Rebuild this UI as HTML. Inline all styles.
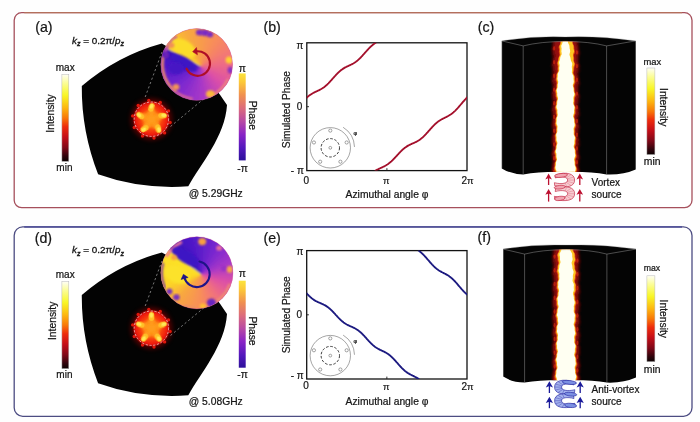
<!DOCTYPE html>
<html><head><meta charset="utf-8">
<style>
html,body{margin:0;padding:0;background:#fefefe;}
body{width:700px;height:422px;overflow:hidden;font-family:"Liberation Sans", sans-serif;}
svg{display:block;position:absolute;left:0;top:0;will-change:transform;}
text{font-family:"Liberation Sans", sans-serif;fill:#161616;stroke:#161616;stroke-width:0.22px;}
</style></head><body>
<svg width="700" height="422" viewBox="0 0 700 422">
<defs>
<linearGradient id="hot" x1="0" y1="0" x2="0" y2="1">
<stop offset="0" stop-color="#fffff4"/>
<stop offset="0.10" stop-color="#fbfd96"/>
<stop offset="0.24" stop-color="#f8f626"/>
<stop offset="0.38" stop-color="#fdb810"/>
<stop offset="0.50" stop-color="#f87808"/>
<stop offset="0.60" stop-color="#ee2c0c"/>
<stop offset="0.72" stop-color="#c40e18"/>
<stop offset="0.84" stop-color="#800818"/>
<stop offset="0.94" stop-color="#30040c"/>
<stop offset="1" stop-color="#0c0202"/>
</linearGradient>
<linearGradient id="phase" x1="0" y1="1" x2="0" y2="0">

<stop offset="0" stop-color="#2c109a"/>
<stop offset="0.14" stop-color="#5218bc"/>
<stop offset="0.3" stop-color="#8a24c6"/>
<stop offset="0.45" stop-color="#b84aa4"/>
<stop offset="0.6" stop-color="#dc6c7c"/>
<stop offset="0.75" stop-color="#f09050"/>
<stop offset="0.9" stop-color="#fcc838"/>
<stop offset="1.0" stop-color="#fce43c"/>
</linearGradient>
<radialGradient id="blob" cx="0.5" cy="0.5" r="0.5">
<stop offset="0" stop-color="#ffa41c"/>
<stop offset="0.36" stop-color="#ff8414"/>
<stop offset="0.56" stop-color="#f8400c"/>
<stop offset="0.80" stop-color="#f01c08"/>
<stop offset="0.90" stop-color="#c40c08"/>
<stop offset="1" stop-color="#500404" stop-opacity="0"/>
</radialGradient>
<filter id="b05" x="-20%" y="-20%" width="140%" height="140%"><feGaussianBlur stdDeviation="0.5"/></filter>
<filter id="b08" x="-20%" y="-20%" width="140%" height="140%"><feGaussianBlur stdDeviation="0.8"/></filter>
<filter id="b12" x="-30%" y="-30%" width="160%" height="160%"><feGaussianBlur stdDeviation="1.2"/></filter>
<filter id="b20" x="-50%" y="-50%" width="200%" height="200%"><feGaussianBlur stdDeviation="2"/></filter>
<filter id="b03" x="-10%" y="-10%" width="120%" height="120%"><feGaussianBlur stdDeviation="0.35"/></filter>
</defs>

<rect x="14.2" y="12.7" width="677.8" height="195.0" rx="7.5" ry="7.5" fill="#ffffff" stroke="#a6505c" stroke-width="1.3"/>
<line x1="24.2" y1="12.7" x2="682.0" y2="12.7" stroke="#b4705c" stroke-width="1.3"/>
<rect x="14.2" y="226.9" width="677.8" height="189.4" rx="8.5" ry="8.5" fill="#ffffff" stroke="#4c4c82" stroke-width="1.3"/>
<line x1="24.2" y1="226.9" x2="682.0" y2="226.9" stroke="#55559a" stroke-width="1.7"/>
<text x="35.2" y="32.1" font-size="14.2" text-anchor="start" >(a)</text>
<text x="263.5" y="32.1" font-size="14.2" text-anchor="start" >(b)</text>
<text x="477.8" y="32.1" font-size="14.2" text-anchor="start" >(c)</text>
<text x="34.7" y="242.7" font-size="14.2" text-anchor="start" >(d)</text>
<text x="263.5" y="242.7" font-size="14.2" text-anchor="start" >(e)</text>
<text x="477.6" y="242.2" font-size="14.2" text-anchor="start" >(f)</text>
<text x="72.0" y="43.8" font-size="9.9" style="stroke-width:0.32px"><tspan font-style="italic">k</tspan><tspan font-size="7" font-style="italic" font-weight="bold" dy="2.3">z</tspan><tspan dy="-2.3"> = 0.2π/</tspan><tspan font-style="italic">p</tspan><tspan font-size="7" font-style="italic" font-weight="bold" dy="2.3">z</tspan></text>
<text x="72.0" y="253.2" font-size="9.9" style="stroke-width:0.32px"><tspan font-style="italic">k</tspan><tspan font-size="7" font-style="italic" font-weight="bold" dy="2.3">z</tspan><tspan dy="-2.3"> = 0.2π/</tspan><tspan font-style="italic">p</tspan><tspan font-size="7" font-style="italic" font-weight="bold" dy="2.3">z</tspan></text>
<path d="M81.8,86 Q117.2,55.6 161.8,43.4 Q201,64 227.0,105.0 C225.2,136 200.5,164.5 188.3,186.3 Q140.5,189.6 98.1,174.3 Q81.4,131.3 81.8,86 Z" fill="#030303"/>
<circle cx="151.4" cy="119.2" r="21" fill="#8a0606" opacity="0.55" filter="url(#b20)"/>
<circle cx="151.4" cy="119.2" r="19.3" fill="url(#blob)" filter="url(#b05)"/>
<circle cx="170.1" cy="122.5" r="1.7" fill="#e01808" filter="url(#b05)"/>
<circle cx="164.6" cy="132.9" r="1.7" fill="#e01808" filter="url(#b05)"/>
<circle cx="154.0" cy="138.0" r="1.7" fill="#e01808" filter="url(#b05)"/>
<circle cx="142.5" cy="136.0" r="1.7" fill="#e01808" filter="url(#b05)"/>
<circle cx="134.3" cy="127.5" r="1.7" fill="#e01808" filter="url(#b05)"/>
<circle cx="132.7" cy="115.9" r="1.7" fill="#e01808" filter="url(#b05)"/>
<circle cx="138.2" cy="105.5" r="1.7" fill="#e01808" filter="url(#b05)"/>
<circle cx="148.8" cy="100.4" r="1.7" fill="#e01808" filter="url(#b05)"/>
<circle cx="160.3" cy="102.4" r="1.7" fill="#e01808" filter="url(#b05)"/>
<circle cx="168.5" cy="110.9" r="1.7" fill="#e01808" filter="url(#b05)"/>
<ellipse cx="151.4" cy="111.7" rx="4.6" ry="3.0" fill="#ff9a1c" transform="rotate(-79.0 151.4 111.7)" filter="url(#b08)"/>
<ellipse cx="151.4" cy="107.4" rx="4.4" ry="2.9" fill="#ffc028" transform="rotate(-68 151.4 107.4)" filter="url(#b05)"/>
<ellipse cx="151.4" cy="106.2" rx="2.6" ry="1.7" fill="#ffe858" transform="rotate(-68 151.4 106.2)" filter="url(#b05)"/>
<ellipse cx="158.5" cy="116.9" rx="4.6" ry="3.0" fill="#ff9a1c" transform="rotate(-7.0 158.5 116.9)" filter="url(#b08)"/>
<ellipse cx="162.6" cy="115.6" rx="4.4" ry="2.9" fill="#ffc028" transform="rotate(4 162.6 115.6)" filter="url(#b05)"/>
<ellipse cx="163.8" cy="115.2" rx="2.6" ry="1.7" fill="#ffe858" transform="rotate(4 163.8 115.2)" filter="url(#b05)"/>
<ellipse cx="155.8" cy="125.3" rx="4.6" ry="3.0" fill="#ff9a1c" transform="rotate(65.0 155.8 125.3)" filter="url(#b08)"/>
<ellipse cx="158.3" cy="128.7" rx="4.4" ry="2.9" fill="#ffc028" transform="rotate(76 158.3 128.7)" filter="url(#b05)"/>
<ellipse cx="159.0" cy="129.7" rx="2.6" ry="1.7" fill="#ffe858" transform="rotate(76 159.0 129.7)" filter="url(#b05)"/>
<ellipse cx="147.0" cy="125.3" rx="4.6" ry="3.0" fill="#ff9a1c" transform="rotate(137.0 147.0 125.3)" filter="url(#b08)"/>
<ellipse cx="144.5" cy="128.7" rx="4.4" ry="2.9" fill="#ffc028" transform="rotate(148 144.5 128.7)" filter="url(#b05)"/>
<ellipse cx="143.8" cy="129.7" rx="2.6" ry="1.7" fill="#ffe858" transform="rotate(148 143.8 129.7)" filter="url(#b05)"/>
<ellipse cx="144.3" cy="116.9" rx="4.6" ry="3.0" fill="#ff9a1c" transform="rotate(209.0 144.3 116.9)" filter="url(#b08)"/>
<ellipse cx="140.2" cy="115.6" rx="4.4" ry="2.9" fill="#ffc028" transform="rotate(220 140.2 115.6)" filter="url(#b05)"/>
<ellipse cx="139.0" cy="115.2" rx="2.6" ry="1.7" fill="#ffe858" transform="rotate(220 139.0 115.2)" filter="url(#b05)"/>
<circle cx="151.4" cy="119.2" r="4.2" fill="#ff9c1c" filter="url(#b08)"/>
<circle cx="151.4" cy="119.2" r="17.2" fill="none" stroke="#fff" stroke-opacity="0.85" stroke-width="0.7" stroke-dasharray="2.2 1.6"/>
<line x1="145.2" y1="97" x2="162" y2="52" stroke="#fff" stroke-opacity="0.7" stroke-width="0.65" stroke-dasharray="2.2 2.4"/>
<line x1="170.5" y1="126.5" x2="206" y2="97" stroke="#fff" stroke-opacity="0.7" stroke-width="0.65" stroke-dasharray="2.2 2.4"/>
<clipPath id="clipa"><circle cx="196.7" cy="64.45" r="35.9"/></clipPath>
<g clip-path="url(#clipa)"><circle cx="196.7" cy="64.45" r="36.9" fill="#e8608c"/><g filter="url(#b12)">
<circle cx="196.7" cy="64.45" r="49.9" fill="#e8608c"/>
<path d="M200.89999999999998,66.25 L158.61,43.76 L155.34,51.45 Z" fill="#3a13b7"/>
<path d="M200.89999999999998,66.25 L157.49,46.01 L154.63,53.85 Z" fill="#3c13b9"/>
<path d="M200.89999999999998,66.25 L156.49,48.31 L154.05,56.29 Z" fill="#3f14bc"/>
<path d="M200.89999999999998,66.25 L155.61,50.66 L153.59,58.76 Z" fill="#4114be"/>
<path d="M200.89999999999998,66.25 L154.86,53.05 L153.26,61.24 Z" fill="#4315c1"/>
<path d="M200.89999999999998,66.25 L154.23,55.47 L153.07,63.74 Z" fill="#4515c3"/>
<path d="M200.89999999999998,66.25 L153.73,57.93 L153.00,66.25 Z" fill="#4816c6"/>
<path d="M200.89999999999998,66.25 L153.36,60.41 L153.07,68.76 Z" fill="#4b17c7"/>
<path d="M200.89999999999998,66.25 L153.12,62.91 L153.26,71.26 Z" fill="#4e18c7"/>
<path d="M200.89999999999998,66.25 L153.01,65.41 L153.59,73.74 Z" fill="#5119c8"/>
<path d="M200.89999999999998,66.25 L153.03,67.92 L154.05,76.21 Z" fill="#541ac8"/>
<path d="M200.89999999999998,66.25 L153.18,70.42 L154.63,78.65 Z" fill="#571bc9"/>
<path d="M200.89999999999998,66.25 L153.47,72.92 L155.34,81.05 Z" fill="#5a1dca"/>
<path d="M200.89999999999998,66.25 L153.88,75.39 L156.18,83.42 Z" fill="#5d1eca"/>
<path d="M200.89999999999998,66.25 L154.42,77.84 L157.14,85.73 Z" fill="#601fcb"/>
<path d="M200.89999999999998,66.25 L155.09,80.25 L158.22,88.00 Z" fill="#6420cc"/>
<path d="M200.89999999999998,66.25 L155.89,82.63 L159.42,90.20 Z" fill="#6721cc"/>
<path d="M200.89999999999998,66.25 L156.81,84.97 L160.73,92.34 Z" fill="#6a22cd"/>
<path d="M200.89999999999998,66.25 L157.85,87.25 L162.15,94.40 Z" fill="#6d23cd"/>
<path d="M200.89999999999998,66.25 L159.01,89.47 L163.67,96.39 Z" fill="#7024ce"/>
<path d="M200.89999999999998,66.25 L160.28,91.63 L165.30,98.30 Z" fill="#7326cf"/>
<path d="M200.89999999999998,66.25 L161.66,93.72 L167.03,100.12 Z" fill="#7627cf"/>
<path d="M200.89999999999998,66.25 L163.15,95.74 L168.85,101.85 Z" fill="#7928d0"/>
<path d="M200.89999999999998,66.25 L164.75,97.68 L170.76,103.48 Z" fill="#7c29d0"/>
<path d="M200.89999999999998,66.25 L166.44,99.52 L172.75,105.00 Z" fill="#7f2acf"/>
<path d="M200.89999999999998,66.25 L168.23,101.28 L174.81,106.42 Z" fill="#822bcf"/>
<path d="M200.89999999999998,66.25 L170.11,102.94 L176.95,107.73 Z" fill="#842cce"/>
<path d="M200.89999999999998,66.25 L172.07,104.50 L179.15,108.93 Z" fill="#872cce"/>
<path d="M200.89999999999998,66.25 L174.11,105.96 L181.42,110.01 Z" fill="#892dcd"/>
<path d="M200.89999999999998,66.25 L176.23,107.31 L183.73,110.97 Z" fill="#8c2ecd"/>
<path d="M200.89999999999998,66.25 L178.41,108.54 L186.10,111.81 Z" fill="#8f2fcc"/>
<path d="M200.89999999999998,66.25 L180.66,109.66 L188.50,112.52 Z" fill="#9130cc"/>
<path d="M200.89999999999998,66.25 L182.96,110.66 L190.94,113.10 Z" fill="#9431cb"/>
<path d="M200.89999999999998,66.25 L185.31,111.54 L193.41,113.56 Z" fill="#9732cb"/>
<path d="M200.89999999999998,66.25 L187.70,112.29 L195.89,113.89 Z" fill="#9933cb"/>
<path d="M200.89999999999998,66.25 L190.12,112.92 L198.39,114.08 Z" fill="#9c34ca"/>
<path d="M200.89999999999998,66.25 L192.58,113.42 L200.90,114.15 Z" fill="#9f35ca"/>
<path d="M200.89999999999998,66.25 L195.06,113.79 L203.41,114.08 Z" fill="#a136c9"/>
<path d="M200.89999999999998,66.25 L197.56,114.03 L205.91,113.89 Z" fill="#a437c9"/>
<path d="M200.89999999999998,66.25 L200.06,114.14 L208.39,113.56 Z" fill="#a738c8"/>
<path d="M200.89999999999998,66.25 L202.57,114.12 L210.86,113.10 Z" fill="#aa39c7"/>
<path d="M200.89999999999998,66.25 L205.07,113.97 L213.30,112.52 Z" fill="#ad3ac5"/>
<path d="M200.89999999999998,66.25 L207.57,113.68 L215.70,111.81 Z" fill="#b03cc3"/>
<path d="M200.89999999999998,66.25 L210.04,113.27 L218.07,110.97 Z" fill="#b33dc1"/>
<path d="M200.89999999999998,66.25 L212.49,112.73 L220.38,110.01 Z" fill="#b73fbf"/>
<path d="M200.89999999999998,66.25 L214.90,112.06 L222.65,108.93 Z" fill="#ba40bd"/>
<path d="M200.89999999999998,66.25 L217.28,111.26 L224.85,107.73 Z" fill="#bd42bb"/>
<path d="M200.89999999999998,66.25 L219.62,110.34 L226.99,106.42 Z" fill="#c043b9"/>
<path d="M200.89999999999998,66.25 L221.90,109.30 L229.05,105.00 Z" fill="#c445b7"/>
<path d="M200.89999999999998,66.25 L224.12,108.14 L231.04,103.48 Z" fill="#c746b5"/>
<path d="M200.89999999999998,66.25 L226.28,106.87 L232.95,101.85 Z" fill="#ca48b3"/>
<path d="M200.89999999999998,66.25 L228.37,105.49 L234.77,100.12 Z" fill="#cd49b1"/>
<path d="M200.89999999999998,66.25 L230.39,104.00 L236.50,98.30 Z" fill="#d14baf"/>
<path d="M200.89999999999998,66.25 L232.33,102.40 L238.13,96.39 Z" fill="#d44cad"/>
<path d="M200.89999999999998,66.25 L234.17,100.71 L239.65,94.40 Z" fill="#d74eab"/>
<path d="M200.89999999999998,66.25 L235.93,98.92 L241.07,92.34 Z" fill="#da4fa9"/>
<path d="M200.89999999999998,66.25 L237.59,97.04 L242.38,90.20 Z" fill="#dd51a7"/>
<path d="M200.89999999999998,66.25 L239.15,95.08 L243.58,88.00 Z" fill="#de53a5"/>
<path d="M200.89999999999998,66.25 L240.61,93.04 L244.66,85.73 Z" fill="#df55a2"/>
<path d="M200.89999999999998,66.25 L241.96,90.92 L245.62,83.42 Z" fill="#e056a0"/>
<path d="M200.89999999999998,66.25 L243.19,88.74 L246.46,81.05 Z" fill="#e1589e"/>
<path d="M200.89999999999998,66.25 L244.31,86.49 L247.17,78.65 Z" fill="#e25a9b"/>
<path d="M200.89999999999998,66.25 L245.31,84.19 L247.75,76.21 Z" fill="#e45c99"/>
<path d="M200.89999999999998,66.25 L246.19,81.84 L248.21,73.74 Z" fill="#e55e97"/>
<path d="M200.89999999999998,66.25 L246.94,79.45 L248.54,71.26 Z" fill="#e66094"/>
<path d="M200.89999999999998,66.25 L247.57,77.03 L248.73,68.76 Z" fill="#e76292"/>
<path d="M200.89999999999998,66.25 L248.07,74.57 L248.80,66.25 Z" fill="#e86390"/>
<path d="M200.89999999999998,66.25 L248.44,72.09 L248.73,63.74 Z" fill="#e9658d"/>
<path d="M200.89999999999998,66.25 L248.68,69.59 L248.54,61.24 Z" fill="#ea678b"/>
<path d="M200.89999999999998,66.25 L248.79,67.09 L248.21,58.76 Z" fill="#ec6989"/>
<path d="M200.89999999999998,66.25 L248.77,64.58 L247.75,56.29 Z" fill="#ed6b87"/>
<path d="M200.89999999999998,66.25 L248.62,62.08 L247.17,53.85 Z" fill="#ee6d84"/>
<path d="M200.89999999999998,66.25 L248.33,59.58 L246.46,51.45 Z" fill="#ef6e82"/>
<path d="M200.89999999999998,66.25 L247.92,57.11 L245.62,49.08 Z" fill="#f07080"/>
<path d="M200.89999999999998,66.25 L247.38,54.66 L244.66,46.77 Z" fill="#f1727d"/>
<path d="M200.89999999999998,66.25 L246.71,52.25 L243.58,44.50 Z" fill="#f1747b"/>
<path d="M200.89999999999998,66.25 L245.91,49.87 L242.38,42.30 Z" fill="#f27679"/>
<path d="M200.89999999999998,66.25 L244.99,47.53 L241.07,40.16 Z" fill="#f27777"/>
<path d="M200.89999999999998,66.25 L243.95,45.25 L239.65,38.10 Z" fill="#f37974"/>
<path d="M200.89999999999998,66.25 L242.79,43.03 L238.13,36.11 Z" fill="#f37b72"/>
<path d="M200.89999999999998,66.25 L241.52,40.87 L236.50,34.20 Z" fill="#f47d70"/>
<path d="M200.89999999999998,66.25 L240.14,38.78 L234.77,32.38 Z" fill="#f47e6e"/>
<path d="M200.89999999999998,66.25 L238.65,36.76 L232.95,30.65 Z" fill="#f5806b"/>
<path d="M200.89999999999998,66.25 L237.05,34.82 L231.04,29.02 Z" fill="#f58269"/>
<path d="M200.89999999999998,66.25 L235.36,32.98 L229.05,27.50 Z" fill="#f68467"/>
<path d="M200.89999999999998,66.25 L233.57,31.22 L226.99,26.08 Z" fill="#f68565"/>
<path d="M200.89999999999998,66.25 L231.69,29.56 L224.85,24.77 Z" fill="#f78762"/>
<path d="M200.89999999999998,66.25 L229.73,28.00 L222.65,23.57 Z" fill="#f78960"/>
<path d="M200.89999999999998,66.25 L227.69,26.54 L220.38,22.49 Z" fill="#f88b5e"/>
<path d="M200.89999999999998,66.25 L225.57,25.19 L218.07,21.53 Z" fill="#f88c5c"/>
<path d="M200.89999999999998,66.25 L223.39,23.96 L215.70,20.69 Z" fill="#f88e5a"/>
<path d="M200.89999999999998,66.25 L221.14,22.84 L213.30,19.98 Z" fill="#f89058"/>
<path d="M200.89999999999998,66.25 L218.84,21.84 L210.86,19.40 Z" fill="#f89157"/>
<path d="M200.89999999999998,66.25 L216.49,20.96 L208.39,18.94 Z" fill="#f89355"/>
<path d="M200.89999999999998,66.25 L214.10,20.21 L205.91,18.61 Z" fill="#f89454"/>
<path d="M200.89999999999998,66.25 L211.68,19.58 L203.41,18.42 Z" fill="#f89652"/>
<path d="M200.89999999999998,66.25 L209.22,19.08 L200.90,18.35 Z" fill="#f89850"/>
<path d="M200.89999999999998,66.25 L206.74,18.71 L198.39,18.42 Z" fill="#f8994f"/>
<path d="M200.89999999999998,66.25 L204.24,18.47 L195.89,18.61 Z" fill="#f89b4d"/>
<path d="M200.89999999999998,66.25 L201.74,18.36 L193.41,18.94 Z" fill="#f89c4c"/>
<path d="M200.89999999999998,66.25 L199.23,18.38 L190.94,19.40 Z" fill="#f89e4a"/>
<path d="M200.89999999999998,66.25 L196.73,18.53 L188.50,19.98 Z" fill="#f8a048"/>
<path d="M200.89999999999998,66.25 L194.23,18.82 L186.10,20.69 Z" fill="#f8a147"/>
<path d="M200.89999999999998,66.25 L191.76,19.23 L183.73,21.53 Z" fill="#f8a345"/>
<path d="M200.89999999999998,66.25 L189.31,19.77 L181.42,22.49 Z" fill="#f8a543"/>
<path d="M200.89999999999998,66.25 L186.90,20.44 L179.15,23.57 Z" fill="#f8a642"/>
<path d="M200.89999999999998,66.25 L184.52,21.24 L176.95,24.77 Z" fill="#f8a840"/>
<path d="M200.89999999999998,66.25 L182.18,22.16 L174.81,26.08 Z" fill="#f8ab3e"/>
<path d="M200.89999999999998,66.25 L179.90,23.20 L172.75,27.50 Z" fill="#f9af3c"/>
<path d="M200.89999999999998,66.25 L177.68,24.36 L170.76,29.02 Z" fill="#f9b23a"/>
<path d="M200.89999999999998,66.25 L175.52,25.63 L168.85,30.65 Z" fill="#f9b638"/>
<path d="M200.89999999999998,66.25 L173.43,27.01 L167.03,32.38 Z" fill="#faba36"/>
<path d="M200.89999999999998,66.25 L171.41,28.50 L165.30,34.20 Z" fill="#fabd34"/>
<path d="M200.89999999999998,66.25 L169.47,30.10 L163.67,36.11 Z" fill="#fac132"/>
<path d="M200.89999999999998,66.25 L167.63,31.79 L162.15,38.10 Z" fill="#fbc530"/>
<path d="M200.89999999999998,66.25 L165.87,33.58 L160.73,40.16 Z" fill="#fbc82e"/>
<path d="M200.89999999999998,66.25 L164.21,35.46 L159.42,42.30 Z" fill="#fbcc2c"/>
<path d="M200.89999999999998,66.25 L162.65,37.42 L158.61,43.76 Z" fill="#fcd02a"/>
<path d="M200.89999999999998,66.25 L161.19,39.46 L158.61,43.76 Z" fill="#fcd328"/>
<path d="M200.89999999999998,66.25 L159.84,41.58 L158.61,43.76 Z" fill="#fcd528"/>
</g>
<path d="M163.15,57.32 A34.3,34.3 0 0 0 175.58,91.48" fill="none" stroke="#f08868" stroke-width="2.8" stroke-linecap="round" filter="url(#b08)" opacity="1.0"/>
<path d="M175.71,37.58 A34.1,34.1 0 0 0 165.08,51.68" fill="none" stroke="#b848b0" stroke-width="3.0" stroke-linecap="round" filter="url(#b08)" opacity="1.0"/>
<path d="M177.41,93.05 A34.5,34.5 0 0 0 191.90,98.61" fill="none" stroke="#e06890" stroke-width="2.4" stroke-linecap="round" filter="url(#b08)" opacity="1.0"/>
<path d="M211.82,95.46 A34.5,34.5 0 0 0 227.71,79.57" fill="none" stroke="#f08878" stroke-width="2.2" stroke-linecap="round" filter="url(#b08)" opacity="1.0"/>
<ellipse cx="183.6" cy="48.2" rx="13.5" ry="8.0" fill="#fcdc2a" transform="rotate(31 183.6 48.2)" filter="url(#b08)"/>
<ellipse cx="183.5" cy="62.6" rx="15" ry="5.6" fill="#3e12c4" transform="rotate(31 183.5 62.6)" filter="url(#b08)"/>
<ellipse cx="176.0" cy="68.6" rx="8" ry="6" fill="#4616c4" transform="rotate(0 176.0 68.6)" filter="url(#b08)"/>
<ellipse cx="199.5" cy="32.4" rx="3.6" ry="3.0" fill="#7a2cc4" transform="rotate(0 199.5 32.4)" filter="url(#b08)"/>
<ellipse cx="205" cy="32.8" rx="4.0" ry="3.2" fill="#7a2cc4" transform="rotate(0 205 32.8)" filter="url(#b08)"/>
<ellipse cx="210" cy="34.4" rx="3.2" ry="2.8" fill="#7a2cc4" transform="rotate(0 210 34.4)" filter="url(#b08)"/>
<ellipse cx="229.0" cy="60" rx="3.4" ry="3.6" fill="#ffd030" transform="rotate(0 229.0 60)" filter="url(#b08)"/>
<ellipse cx="230.4" cy="70.2" rx="2.8" ry="3.4" fill="#8a30c0" transform="rotate(0 230.4 70.2)" filter="url(#b08)"/>
<ellipse cx="210.4" cy="94.0" rx="4.4" ry="3.8" fill="#fab83c" transform="rotate(0 210.4 94.0)" filter="url(#b08)"/>
<ellipse cx="176.0" cy="87.0" rx="3.4" ry="3.0" fill="#f29454" transform="rotate(0 176.0 87.0)" filter="url(#b08)"/>
<ellipse cx="166.0" cy="55.0" rx="3.0" ry="3.4" fill="#6a20b8" transform="rotate(0 166.0 55.0)" filter="url(#b08)"/>
<ellipse cx="171.2" cy="45.2" rx="3.2" ry="2.8" fill="#f09058" transform="rotate(0 171.2 45.2)" filter="url(#b08)"/>
</g>
<circle cx="196.7" cy="64.45" r="35.9" fill="none" stroke="#c060b0" stroke-opacity="0.35" stroke-width="0.8"/>
<path d="M186.55,68.70 A12.3,12.3 0 1 0 196.20,51.29" fill="none" stroke="#ae0e26" stroke-width="2.1" stroke-linecap="round"/>
<path d="M192.63,51.73 L196.54,47.52 L197.45,54.87 Z" fill="#ae0e26" stroke="#ae0e26" stroke-width="0.5" stroke-linejoin="round"/>
<rect x="61.9" y="74.4" width="6.9" height="87.0" fill="url(#hot)" stroke="#b8b8b8" stroke-width="0.5"/>
<text x="65.2" y="70.5" font-size="10" text-anchor="middle" >max</text>
<text x="64.4" y="170.5" font-size="10" text-anchor="middle" >min</text>
<text x="54.0" y="113.5" font-size="10.3" text-anchor="middle" transform="rotate(-90 54.0 113.5)" >Intensity</text>
<rect x="238.8" y="73.4" width="6.9" height="87.0" fill="url(#phase)"/>
<text x="242.3" y="72.1" font-size="10.3" text-anchor="middle" >π</text>
<text x="242.6" y="171.8" font-size="10.3" text-anchor="middle" >-π</text>
<text x="249.2" y="115.3" font-size="10.3" text-anchor="middle" transform="rotate(90 249.2 115.3)" >Phase</text>
<path d="M81.8,295 Q117.2,264.6 161.8,252.4 Q201,273 227.0,314.0 C225.2,345 200.5,373.5 188.3,395.3 Q140.5,398.6 98.1,383.3 Q81.4,340.3 81.8,295 Z" fill="#030303"/>
<circle cx="151.4" cy="328.2" r="21" fill="#8a0606" opacity="0.55" filter="url(#b20)"/>
<circle cx="151.4" cy="328.2" r="19.3" fill="url(#blob)" filter="url(#b05)"/>
<circle cx="170.1" cy="331.5" r="1.7" fill="#e01808" filter="url(#b05)"/>
<circle cx="164.6" cy="341.9" r="1.7" fill="#e01808" filter="url(#b05)"/>
<circle cx="154.0" cy="347.0" r="1.7" fill="#e01808" filter="url(#b05)"/>
<circle cx="142.5" cy="345.0" r="1.7" fill="#e01808" filter="url(#b05)"/>
<circle cx="134.3" cy="336.5" r="1.7" fill="#e01808" filter="url(#b05)"/>
<circle cx="132.7" cy="324.9" r="1.7" fill="#e01808" filter="url(#b05)"/>
<circle cx="138.2" cy="314.5" r="1.7" fill="#e01808" filter="url(#b05)"/>
<circle cx="148.8" cy="309.4" r="1.7" fill="#e01808" filter="url(#b05)"/>
<circle cx="160.3" cy="311.4" r="1.7" fill="#e01808" filter="url(#b05)"/>
<circle cx="168.5" cy="319.9" r="1.7" fill="#e01808" filter="url(#b05)"/>
<ellipse cx="151.4" cy="320.7" rx="4.6" ry="3.0" fill="#ff9a1c" transform="rotate(-90.0 151.4 320.7)" filter="url(#b08)"/>
<ellipse cx="151.4" cy="316.4" rx="4.4" ry="2.9" fill="#ffc028" transform="rotate(-90 151.4 316.4)" filter="url(#b05)"/>
<ellipse cx="151.4" cy="315.2" rx="2.6" ry="1.7" fill="#ffe858" transform="rotate(-90 151.4 315.2)" filter="url(#b05)"/>
<ellipse cx="158.5" cy="325.9" rx="4.6" ry="3.0" fill="#ff9a1c" transform="rotate(-18.0 158.5 325.9)" filter="url(#b08)"/>
<ellipse cx="162.6" cy="324.6" rx="4.4" ry="2.9" fill="#ffc028" transform="rotate(-18 162.6 324.6)" filter="url(#b05)"/>
<ellipse cx="163.8" cy="324.2" rx="2.6" ry="1.7" fill="#ffe858" transform="rotate(-18 163.8 324.2)" filter="url(#b05)"/>
<ellipse cx="155.8" cy="334.3" rx="4.6" ry="3.0" fill="#ff9a1c" transform="rotate(54.0 155.8 334.3)" filter="url(#b08)"/>
<ellipse cx="158.3" cy="337.7" rx="4.4" ry="2.9" fill="#ffc028" transform="rotate(54 158.3 337.7)" filter="url(#b05)"/>
<ellipse cx="159.0" cy="338.7" rx="2.6" ry="1.7" fill="#ffe858" transform="rotate(54 159.0 338.7)" filter="url(#b05)"/>
<ellipse cx="147.0" cy="334.3" rx="4.6" ry="3.0" fill="#ff9a1c" transform="rotate(126.0 147.0 334.3)" filter="url(#b08)"/>
<ellipse cx="144.5" cy="337.7" rx="4.4" ry="2.9" fill="#ffc028" transform="rotate(126 144.5 337.7)" filter="url(#b05)"/>
<ellipse cx="143.8" cy="338.7" rx="2.6" ry="1.7" fill="#ffe858" transform="rotate(126 143.8 338.7)" filter="url(#b05)"/>
<ellipse cx="144.3" cy="325.9" rx="4.6" ry="3.0" fill="#ff9a1c" transform="rotate(198.0 144.3 325.9)" filter="url(#b08)"/>
<ellipse cx="140.2" cy="324.6" rx="4.4" ry="2.9" fill="#ffc028" transform="rotate(198 140.2 324.6)" filter="url(#b05)"/>
<ellipse cx="139.0" cy="324.2" rx="2.6" ry="1.7" fill="#ffe858" transform="rotate(198 139.0 324.2)" filter="url(#b05)"/>
<circle cx="151.4" cy="328.2" r="4.2" fill="#ff9c1c" filter="url(#b08)"/>
<circle cx="151.4" cy="328.2" r="17.2" fill="none" stroke="#fff" stroke-opacity="0.85" stroke-width="0.7" stroke-dasharray="2.2 1.6"/>
<line x1="145.2" y1="306" x2="162" y2="261" stroke="#fff" stroke-opacity="0.7" stroke-width="0.65" stroke-dasharray="2.2 2.4"/>
<line x1="170.5" y1="335.5" x2="206" y2="306" stroke="#fff" stroke-opacity="0.7" stroke-width="0.65" stroke-dasharray="2.2 2.4"/>
<clipPath id="clipd"><circle cx="196.9" cy="272.75" r="36.1"/></clipPath>
<g clip-path="url(#clipd)"><circle cx="196.9" cy="272.75" r="37.1" fill="#e8608c"/><g filter="url(#b12)">
<circle cx="196.9" cy="272.75" r="50.1" fill="#e8608c"/>
<path d="M201.1,274.55 L162.69,245.60 L168.30,239.37 Z" fill="#3712b4"/>
<path d="M201.1,274.55 L164.25,243.63 L170.18,237.70 Z" fill="#3912b6"/>
<path d="M201.1,274.55 L165.92,241.75 L172.15,236.14 Z" fill="#3b13b8"/>
<path d="M201.1,274.55 L167.69,239.95 L174.20,234.67 Z" fill="#3d13ba"/>
<path d="M201.1,274.55 L169.54,238.25 L176.33,233.32 Z" fill="#3f14bc"/>
<path d="M201.1,274.55 L171.49,236.65 L178.52,232.08 Z" fill="#4114be"/>
<path d="M201.1,274.55 L173.51,235.15 L180.77,230.96 Z" fill="#4315c0"/>
<path d="M201.1,274.55 L175.61,233.76 L183.08,229.95 Z" fill="#4515c2"/>
<path d="M201.1,274.55 L177.78,232.48 L185.44,229.07 Z" fill="#4716c5"/>
<path d="M201.1,274.55 L180.01,231.32 L187.84,228.31 Z" fill="#4916c6"/>
<path d="M201.1,274.55 L182.31,230.27 L190.28,227.68 Z" fill="#4c17c7"/>
<path d="M201.1,274.55 L184.65,229.35 L192.75,227.18 Z" fill="#4e18c7"/>
<path d="M201.1,274.55 L187.04,228.55 L195.24,226.81 Z" fill="#5119c8"/>
<path d="M201.1,274.55 L189.46,227.88 L197.74,226.57 Z" fill="#541ac8"/>
<path d="M201.1,274.55 L191.92,227.33 L200.26,226.46 Z" fill="#561bc9"/>
<path d="M201.1,274.55 L194.41,226.92 L202.78,226.48 Z" fill="#591cc9"/>
<path d="M201.1,274.55 L196.91,226.63 L205.29,226.63 Z" fill="#5c1dca"/>
<path d="M201.1,274.55 L199.42,226.48 L207.79,226.92 Z" fill="#5f1ecb"/>
<path d="M201.1,274.55 L201.94,226.46 L210.28,227.33 Z" fill="#611fcb"/>
<path d="M201.1,274.55 L204.46,226.57 L212.74,227.88 Z" fill="#6420cc"/>
<path d="M201.1,274.55 L206.96,226.81 L215.16,228.55 Z" fill="#6721cc"/>
<path d="M201.1,274.55 L209.45,227.18 L217.55,229.35 Z" fill="#6922cd"/>
<path d="M201.1,274.55 L211.92,227.68 L219.89,230.27 Z" fill="#6c23cd"/>
<path d="M201.1,274.55 L214.36,228.31 L222.19,231.32 Z" fill="#6f24ce"/>
<path d="M201.1,274.55 L216.76,229.07 L224.42,232.48 Z" fill="#7225ce"/>
<path d="M201.1,274.55 L219.12,229.95 L226.59,233.76 Z" fill="#7426cf"/>
<path d="M201.1,274.55 L221.43,230.96 L228.69,235.15 Z" fill="#7727cf"/>
<path d="M201.1,274.55 L223.68,232.08 L230.71,236.65 Z" fill="#7a28d0"/>
<path d="M201.1,274.55 L225.87,233.32 L232.66,238.25 Z" fill="#7d29cf"/>
<path d="M201.1,274.55 L228.00,234.67 L234.51,239.95 Z" fill="#812acf"/>
<path d="M201.1,274.55 L230.05,236.14 L236.28,241.75 Z" fill="#842cce"/>
<path d="M201.1,274.55 L232.02,237.70 L237.95,243.63 Z" fill="#882dce"/>
<path d="M201.1,274.55 L233.90,239.37 L239.51,245.60 Z" fill="#8b2ecd"/>
<path d="M201.1,274.55 L235.70,241.14 L240.98,247.65 Z" fill="#8f2fcc"/>
<path d="M201.1,274.55 L237.40,242.99 L242.33,249.78 Z" fill="#9230cc"/>
<path d="M201.1,274.55 L239.00,244.94 L243.57,251.97 Z" fill="#9632cb"/>
<path d="M201.1,274.55 L240.50,246.96 L244.69,254.22 Z" fill="#9933cb"/>
<path d="M201.1,274.55 L241.89,249.06 L245.70,256.53 Z" fill="#9d34ca"/>
<path d="M201.1,274.55 L243.17,251.23 L246.58,258.89 Z" fill="#a035c9"/>
<path d="M201.1,274.55 L244.33,253.46 L247.34,261.29 Z" fill="#a437c9"/>
<path d="M201.1,274.55 L245.38,255.76 L247.97,263.73 Z" fill="#a738c8"/>
<path d="M201.1,274.55 L246.30,258.10 L248.47,266.20 Z" fill="#ab3ac6"/>
<path d="M201.1,274.55 L247.10,260.49 L248.84,268.69 Z" fill="#b03cc3"/>
<path d="M201.1,274.55 L247.77,262.91 L249.08,271.19 Z" fill="#b43ec1"/>
<path d="M201.1,274.55 L248.32,265.37 L249.19,273.71 Z" fill="#b840be"/>
<path d="M201.1,274.55 L248.73,267.86 L249.17,276.23 Z" fill="#bd42bb"/>
<path d="M201.1,274.55 L249.02,270.36 L249.02,278.74 Z" fill="#c144b9"/>
<path d="M201.1,274.55 L249.17,272.87 L248.73,281.24 Z" fill="#c545b6"/>
<path d="M201.1,274.55 L249.19,275.39 L248.32,283.73 Z" fill="#ca47b3"/>
<path d="M201.1,274.55 L249.08,277.91 L247.77,286.19 Z" fill="#ce49b1"/>
<path d="M201.1,274.55 L248.84,280.41 L247.10,288.61 Z" fill="#d24bae"/>
<path d="M201.1,274.55 L248.47,282.90 L246.30,291.00 Z" fill="#d64dab"/>
<path d="M201.1,274.55 L247.97,285.37 L245.38,293.34 Z" fill="#db4fa9"/>
<path d="M201.1,274.55 L247.34,287.81 L244.33,295.64 Z" fill="#dd52a6"/>
<path d="M201.1,274.55 L246.58,290.21 L243.17,297.87 Z" fill="#df54a3"/>
<path d="M201.1,274.55 L245.70,292.57 L241.89,300.04 Z" fill="#e0579f"/>
<path d="M201.1,274.55 L244.69,294.88 L240.50,302.14 Z" fill="#e2599c"/>
<path d="M201.1,274.55 L243.57,297.13 L239.00,304.16 Z" fill="#e45c99"/>
<path d="M201.1,274.55 L242.33,299.32 L237.40,306.11 Z" fill="#e55f96"/>
<path d="M201.1,274.55 L240.98,301.45 L235.70,307.96 Z" fill="#e76193"/>
<path d="M201.1,274.55 L239.51,303.50 L233.90,309.73 Z" fill="#e8648f"/>
<path d="M201.1,274.55 L237.95,305.47 L232.02,311.40 Z" fill="#ea668c"/>
<path d="M201.1,274.55 L236.28,307.35 L230.05,312.96 Z" fill="#ec6989"/>
<path d="M201.1,274.55 L234.51,309.15 L228.00,314.43 Z" fill="#ed6b86"/>
<path d="M201.1,274.55 L232.66,310.85 L225.87,315.78 Z" fill="#ef6e82"/>
<path d="M201.1,274.55 L230.71,312.45 L223.68,317.02 Z" fill="#f0717f"/>
<path d="M201.1,274.55 L228.69,313.95 L221.43,318.14 Z" fill="#f1737c"/>
<path d="M201.1,274.55 L226.59,315.34 L219.12,319.15 Z" fill="#f27579"/>
<path d="M201.1,274.55 L224.42,316.62 L216.76,320.03 Z" fill="#f27876"/>
<path d="M201.1,274.55 L222.19,317.78 L214.36,320.79 Z" fill="#f37a73"/>
<path d="M201.1,274.55 L219.89,318.83 L211.92,321.42 Z" fill="#f47c70"/>
<path d="M201.1,274.55 L217.55,319.75 L209.45,321.92 Z" fill="#f47f6d"/>
<path d="M201.1,274.55 L215.16,320.55 L206.96,322.29 Z" fill="#f5816a"/>
<path d="M201.1,274.55 L212.74,321.22 L204.46,322.53 Z" fill="#f68367"/>
<path d="M201.1,274.55 L210.28,321.77 L201.94,322.64 Z" fill="#f68664"/>
<path d="M201.1,274.55 L207.79,322.18 L199.42,322.62 Z" fill="#f78861"/>
<path d="M201.1,274.55 L205.29,322.47 L196.91,322.47 Z" fill="#f88a5e"/>
<path d="M201.1,274.55 L202.78,322.62 L194.41,322.18 Z" fill="#f88d5b"/>
<path d="M201.1,274.55 L200.26,322.64 L191.92,321.77 Z" fill="#f88f59"/>
<path d="M201.1,274.55 L197.74,322.53 L189.46,321.22 Z" fill="#f89157"/>
<path d="M201.1,274.55 L195.24,322.29 L187.04,320.55 Z" fill="#f89355"/>
<path d="M201.1,274.55 L192.75,321.92 L184.65,319.75 Z" fill="#f89454"/>
<path d="M201.1,274.55 L190.28,321.42 L182.31,318.83 Z" fill="#f89652"/>
<path d="M201.1,274.55 L187.84,320.79 L180.01,317.78 Z" fill="#f89850"/>
<path d="M201.1,274.55 L185.44,320.03 L177.78,316.62 Z" fill="#f89a4e"/>
<path d="M201.1,274.55 L183.08,319.15 L175.61,315.34 Z" fill="#f89c4c"/>
<path d="M201.1,274.55 L180.77,318.14 L173.51,313.95 Z" fill="#f89d4b"/>
<path d="M201.1,274.55 L178.52,317.02 L171.49,312.45 Z" fill="#f89f49"/>
<path d="M201.1,274.55 L176.33,315.78 L169.54,310.85 Z" fill="#f8a147"/>
<path d="M201.1,274.55 L174.20,314.43 L167.69,309.15 Z" fill="#f8a345"/>
<path d="M201.1,274.55 L172.15,312.96 L165.92,307.35 Z" fill="#f8a543"/>
<path d="M201.1,274.55 L170.18,311.40 L164.25,305.47 Z" fill="#f8a642"/>
<path d="M201.1,274.55 L168.30,309.73 L162.69,303.50 Z" fill="#f8a840"/>
<path d="M201.1,274.55 L166.50,307.96 L161.22,301.45 Z" fill="#f8ad3d"/>
<path d="M201.1,274.55 L164.80,306.11 L159.87,299.32 Z" fill="#f9b23b"/>
<path d="M201.1,274.55 L163.20,304.16 L158.63,297.13 Z" fill="#f9b638"/>
<path d="M201.1,274.55 L161.70,302.14 L157.51,294.88 Z" fill="#fabb36"/>
<path d="M201.1,274.55 L160.31,300.04 L156.50,292.57 Z" fill="#fabf33"/>
<path d="M201.1,274.55 L159.03,297.87 L155.62,290.21 Z" fill="#fbc431"/>
<path d="M201.1,274.55 L157.87,295.64 L154.86,287.81 Z" fill="#fbc82e"/>
<path d="M201.1,274.55 L156.82,293.34 L154.23,285.37 Z" fill="#fbcd2c"/>
<path d="M201.1,274.55 L155.90,291.00 L153.73,282.90 Z" fill="#fcd12a"/>
<path d="M201.1,274.55 L155.10,288.61 L153.36,280.41 Z" fill="#fcd528"/>
<path d="M201.1,274.55 L154.43,286.19 L153.12,277.91 Z" fill="#fcd628"/>
<path d="M201.1,274.55 L153.88,283.73 L153.01,275.39 Z" fill="#fcd728"/>
<path d="M201.1,274.55 L153.47,281.24 L153.03,272.87 Z" fill="#fcd828"/>
<path d="M201.1,274.55 L153.18,278.74 L153.18,270.36 Z" fill="#fcd928"/>
<path d="M201.1,274.55 L153.03,276.23 L153.47,267.86 Z" fill="#fcda28"/>
<path d="M201.1,274.55 L153.01,273.71 L153.88,265.37 Z" fill="#fcda28"/>
<path d="M201.1,274.55 L153.12,271.19 L154.43,262.91 Z" fill="#fcdb28"/>
<path d="M201.1,274.55 L153.36,268.69 L155.10,260.49 Z" fill="#fcdc28"/>
<path d="M201.1,274.55 L153.73,266.20 L155.90,258.10 Z" fill="#fcdd28"/>
<path d="M201.1,274.55 L154.23,263.73 L156.82,255.76 Z" fill="#fcde28"/>
<path d="M201.1,274.55 L154.86,261.29 L157.87,253.46 Z" fill="#fcdf28"/>
<path d="M201.1,274.55 L155.62,258.89 L159.03,251.23 Z" fill="#fcdf28"/>
<path d="M201.1,274.55 L156.50,256.53 L160.31,249.06 Z" fill="#fce028"/>
<path d="M201.1,274.55 L157.51,254.22 L161.70,246.96 Z" fill="#fce128"/>
<path d="M201.1,274.55 L158.63,251.97 L162.69,245.60 Z" fill="#fce228"/>
<path d="M201.1,274.55 L159.87,249.78 L162.69,245.60 Z" fill="#fce328"/>
<path d="M201.1,274.55 L161.22,247.65 L162.69,245.60 Z" fill="#fce428"/>
</g>
<path d="M180.80,242.46 A34.300000000000004,34.300000000000004 0 0 0 167.20,255.60" fill="none" stroke="#f07898" stroke-width="3.0" stroke-linecap="round" filter="url(#b08)" opacity="1.0"/>
<path d="M163.00,263.67 A35.1,35.1 0 0 0 165.09,287.58" fill="none" stroke="#6a24b4" stroke-width="1.8" stroke-linecap="round" filter="url(#b08)" opacity="1.0"/>
<path d="M214.25,302.80 A34.7,34.7 0 0 0 229.51,284.62" fill="none" stroke="#f09070" stroke-width="2.2" stroke-linecap="round" filter="url(#b08)" opacity="1.0"/>
<path d="M185.03,305.36 A34.7,34.7 0 0 0 195.69,307.43" fill="none" stroke="#f09060" stroke-width="2.4" stroke-linecap="round" filter="url(#b08)" opacity="1.0"/>
<ellipse cx="185.6" cy="256.6" rx="15" ry="6.2" fill="#3e12c4" transform="rotate(31 185.6 256.6)" filter="url(#b08)"/>
<ellipse cx="177.4" cy="274.6" rx="13" ry="8.5" fill="#fce22c" transform="rotate(20 177.4 274.6)" filter="url(#b08)"/>
<ellipse cx="202.2" cy="241.6" rx="4.0" ry="3.6" fill="#f8a040" transform="rotate(0 202.2 241.6)" filter="url(#b08)"/>
<ellipse cx="223.8" cy="268.4" rx="2.8" ry="2.8" fill="#9a30c4" transform="rotate(0 223.8 268.4)" filter="url(#b08)"/>
<ellipse cx="229.8" cy="269.4" rx="3.0" ry="3.4" fill="#f8a848" transform="rotate(0 229.8 269.4)" filter="url(#b08)"/>
<ellipse cx="211.4" cy="302.8" rx="4.6" ry="4.2" fill="#6a26c0" transform="rotate(0 211.4 302.8)" filter="url(#b08)"/>
<ellipse cx="203.0" cy="306.0" rx="3.2" ry="2.6" fill="#fcc030" transform="rotate(0 203.0 306.0)" filter="url(#b08)"/>
<ellipse cx="169.4" cy="291.4" rx="3.0" ry="3.0" fill="#7830c0" transform="rotate(0 169.4 291.4)" filter="url(#b08)"/>
<ellipse cx="176.4" cy="297.2" rx="3.2" ry="3.0" fill="#7830c0" transform="rotate(0 176.4 297.2)" filter="url(#b08)"/>
<ellipse cx="174.0" cy="257.4" rx="3.0" ry="2.6" fill="#f8a040" transform="rotate(0 174.0 257.4)" filter="url(#b08)"/>
<ellipse cx="219.2" cy="248.0" rx="3.0" ry="2.6" fill="#e8709c" transform="rotate(0 219.2 248.0)" filter="url(#b08)"/>
</g>
<circle cx="196.9" cy="272.75" r="36.1" fill="none" stroke="#c060b0" stroke-opacity="0.35" stroke-width="0.8"/>
<path d="M199.48,261.58 A12.9,12.9 0 1 1 184.40,277.76" fill="none" stroke="#1e1488" stroke-width="2.1" stroke-linecap="round"/>
<path d="M183.41,274.30 L188.18,277.50 L181.06,279.54 Z" fill="#1e1488" stroke="#1e1488" stroke-width="0.5" stroke-linejoin="round"/>
<rect x="61.9" y="281.70000000000005" width="6.9" height="87.0" fill="url(#hot)" stroke="#b8b8b8" stroke-width="0.5"/>
<text x="65.2" y="277.8" font-size="10" text-anchor="middle" >max</text>
<text x="64.4" y="377.8" font-size="10" text-anchor="middle" >min</text>
<text x="55.6" y="320.8" font-size="10.3" text-anchor="middle" transform="rotate(-90 55.6 320.8)" >Intensity</text>
<rect x="238.8" y="280.70000000000005" width="6.9" height="87.0" fill="url(#phase)"/>
<text x="242.3" y="277.4" font-size="10.3" text-anchor="middle" >π</text>
<text x="242.6" y="377.5" font-size="10.3" text-anchor="middle" >-π</text>
<text x="249.2" y="331.0" font-size="10.3" text-anchor="middle" transform="rotate(90 249.2 331.0)" >Phase</text>
<text x="188.8" y="197.2" font-size="10.3" text-anchor="start" >@ 5.29GHz</text>
<text x="188.8" y="404.5" font-size="10.3" text-anchor="start" >@ 5.08GHz</text>
<rect x="306.8" y="42.8" width="160.2" height="127.8" fill="none" stroke="#121212" stroke-width="1.3"/>
<line x1="306.8" y1="106.69999999999999" x2="309.0" y2="106.69999999999999" stroke="#1c1c1c" stroke-width="0.9"/>
<line x1="386.9" y1="170.6" x2="386.9" y2="168.2" stroke="#1c1c1c" stroke-width="0.9"/>
<clipPath id="pcb"><rect x="306.8" y="42.8" width="160.2" height="127.8"/></clipPath>
<path d="M306.80,97.63 L307.20,97.26 L307.60,96.90 L308.00,96.56 L308.40,96.22 L308.80,95.90 L309.20,95.58 L309.60,95.28 L310.00,94.99 L310.40,94.70 L310.81,94.43 L311.21,94.17 L311.61,93.92 L312.01,93.67 L312.41,93.44 L312.81,93.21 L313.21,92.99 L313.61,92.78 L314.01,92.57 L314.41,92.37 L314.81,92.17 L315.21,91.98 L315.61,91.79 L316.01,91.60 L316.41,91.42 L316.81,91.24 L317.21,91.05 L317.61,90.87 L318.01,90.68 L318.41,90.49 L318.81,90.30 L319.22,90.10 L319.62,89.90 L320.02,89.70 L320.42,89.48 L320.82,89.26 L321.22,89.04 L321.62,88.80 L322.02,88.56 L322.42,88.30 L322.82,88.04 L323.22,87.77 L323.62,87.49 L324.02,87.19 L324.42,86.89 L324.82,86.58 L325.22,86.25 L325.62,85.91 L326.02,85.57 L326.42,85.21 L326.82,84.85 L327.23,84.47 L327.63,84.08 L328.03,83.69 L328.43,83.29 L328.83,82.87 L329.23,82.45 L329.63,82.03 L330.03,81.60 L330.43,81.16 L330.83,80.72 L331.23,80.27 L331.63,79.82 L332.03,79.37 L332.43,78.91 L332.83,78.46 L333.23,78.00 L333.63,77.55 L334.03,77.09 L334.43,76.64 L334.84,76.20 L335.24,75.75 L335.64,75.32 L336.04,74.88 L336.44,74.46 L336.84,74.04 L337.24,73.63 L337.64,73.22 L338.04,72.83 L338.44,72.44 L338.84,72.07 L339.24,71.70 L339.64,71.34 L340.04,71.00 L340.44,70.66 L340.84,70.34 L341.24,70.02 L341.64,69.72 L342.04,69.43 L342.44,69.14 L342.85,68.87 L343.25,68.61 L343.65,68.36 L344.05,68.11 L344.45,67.88 L344.85,67.65 L345.25,67.43 L345.65,67.22 L346.05,67.01 L346.45,66.81 L346.85,66.61 L347.25,66.42 L347.65,66.23 L348.05,66.04 L348.45,65.86 L348.85,65.68 L349.25,65.49 L349.65,65.31 L350.05,65.12 L350.45,64.93 L350.86,64.74 L351.26,64.54 L351.66,64.34 L352.06,64.14 L352.46,63.92 L352.86,63.70 L353.26,63.48 L353.66,63.24 L354.06,63.00 L354.46,62.74 L354.86,62.48 L355.26,62.21 L355.66,61.93 L356.06,61.63 L356.46,61.33 L356.86,61.02 L357.26,60.69 L357.66,60.35 L358.06,60.01 L358.46,59.65 L358.87,59.29 L359.27,58.91 L359.67,58.52 L360.07,58.13 L360.47,57.73 L360.87,57.31 L361.27,56.89 L361.67,56.47 L362.07,56.04 L362.47,55.60 L362.87,55.16 L363.27,54.71 L363.67,54.26 L364.07,53.81 L364.47,53.35 L364.87,52.90 L365.27,52.44 L365.67,51.99 L366.07,51.53 L366.47,51.08 L366.88,50.64 L367.28,50.19 L367.68,49.76 L368.08,49.32 L368.48,48.90 L368.88,48.48 L369.28,48.07 L369.68,47.66 L370.08,47.27 L370.48,46.88 L370.88,46.51 L371.28,46.14 L371.68,45.78 L372.08,45.44 L372.48,45.10 L372.88,44.78 L373.28,44.46 L373.68,44.16 L374.08,43.87 L374.48,43.58 L374.88,43.31 L375.29,43.05" fill="none" stroke="#a4102c" stroke-width="1.85" clip-path="url(#pcb)" stroke-linecap="square"/>
<path d="M375.69,170.60 L376.09,170.35 L376.49,170.12 L376.89,169.89 L377.29,169.67 L377.69,169.46 L378.09,169.25 L378.49,169.05 L378.89,168.85 L379.29,168.66 L379.69,168.47 L380.09,168.28 L380.49,168.10 L380.89,167.92 L381.29,167.73 L381.69,167.55 L382.09,167.36 L382.49,167.17 L382.89,166.98 L383.30,166.78 L383.70,166.58 L384.10,166.38 L384.50,166.16 L384.90,165.94 L385.30,165.72 L385.70,165.48 L386.10,165.24 L386.50,164.98 L386.90,164.72 L387.30,164.47 L387.70,164.20 L388.10,163.93 L388.50,163.64 L388.90,163.35 L389.30,163.04 L389.70,162.72 L390.10,162.39 L390.50,162.05 L390.90,161.71 L391.31,161.35 L391.71,160.98 L392.11,160.60 L392.51,160.22 L392.91,159.82 L393.31,159.42 L393.71,159.01 L394.11,158.60 L394.51,158.18 L394.91,157.75 L395.31,157.32 L395.71,156.89 L396.11,156.45 L396.51,156.01 L396.91,155.58 L397.31,155.14 L397.71,154.70 L398.11,154.26 L398.51,153.83 L398.92,153.40 L399.32,152.97 L399.72,152.55 L400.12,152.13 L400.52,151.72 L400.92,151.32 L401.32,150.92 L401.72,150.53 L402.12,150.16 L402.52,149.78 L402.92,149.42 L403.32,149.07 L403.72,148.73 L404.12,148.40 L404.52,148.08 L404.92,147.76 L405.32,147.46 L405.72,147.17 L406.12,146.89 L406.52,146.62 L406.93,146.36 L407.33,146.11 L407.73,145.87 L408.13,145.64 L408.53,145.42 L408.93,145.20 L409.33,145.00 L409.73,144.79 L410.13,144.60 L410.53,144.41 L410.93,144.22 L411.33,144.04 L411.73,143.86 L412.13,143.69 L412.53,143.51 L412.93,143.34 L413.33,143.16 L413.73,142.99 L414.13,142.81 L414.53,142.63 L414.94,142.45 L415.34,142.26 L415.74,142.06 L416.14,141.86 L416.54,141.66 L416.94,141.45 L417.34,141.23 L417.74,141.00 L418.14,140.76 L418.54,140.51 L418.94,140.25 L419.34,139.99 L419.74,139.71 L420.14,139.42 L420.54,139.12 L420.94,138.81 L421.34,138.49 L421.74,138.16 L422.14,137.82 L422.54,137.47 L422.94,137.10 L423.35,136.73 L423.75,136.34 L424.15,135.95 L424.55,135.55 L424.95,135.14 L425.35,134.72 L425.75,134.30 L426.15,133.87 L426.55,133.43 L426.95,132.99 L427.35,132.54 L427.75,132.09 L428.15,131.63 L428.55,131.18 L428.95,130.72 L429.35,130.27 L429.75,129.81 L430.15,129.36 L430.55,128.90 L430.96,128.45 L431.36,128.01 L431.76,127.57 L432.16,127.13 L432.56,126.70 L432.96,126.28 L433.36,125.86 L433.76,125.45 L434.16,125.05 L434.56,124.66 L434.96,124.28 L435.36,123.91 L435.76,123.55 L436.16,123.19 L436.56,122.85 L436.96,122.52 L437.36,122.20 L437.76,121.89 L438.16,121.59 L438.56,121.30 L438.96,121.02 L439.37,120.75 L439.77,120.48 L440.17,120.23 L440.57,119.99 L440.97,119.75 L441.37,119.52 L441.77,119.30 L442.17,119.08 L442.57,118.87 L442.97,118.66 L443.37,118.46 L443.77,118.26 L444.17,118.06 L444.57,117.87 L444.97,117.67 L445.37,117.48 L445.77,117.28 L446.17,117.08 L446.57,116.88 L446.98,116.67 L447.38,116.46 L447.78,116.25 L448.18,116.03 L448.58,115.80 L448.98,115.57 L449.38,115.33 L449.78,115.08 L450.18,114.82 L450.58,114.55 L450.98,114.28 L451.38,113.99 L451.78,113.69 L452.18,113.38 L452.58,113.07 L452.98,112.74 L453.38,112.40 L453.78,112.04 L454.18,111.68 L454.58,111.31 L454.99,110.93 L455.39,110.54 L455.79,110.13 L456.19,109.72 L456.59,109.30 L456.99,108.87 L457.39,108.44 L457.79,107.99 L458.19,107.55 L458.59,107.09 L458.99,106.63 L459.39,106.17 L459.79,105.70 L460.19,105.23 L460.59,104.76 L460.99,104.28 L461.39,103.81 L461.79,103.34 L462.19,102.87 L462.59,102.40 L463.00,101.94 L463.40,101.48 L463.80,101.02 L464.20,100.57 L464.60,100.13 L465.00,99.69 L465.40,99.26 L465.80,98.84 L466.20,98.42 L466.60,98.02 L467.00,97.63" fill="none" stroke="#a4102c" stroke-width="1.85" clip-path="url(#pcb)" stroke-linecap="square"/>
<circle cx="330.3" cy="147.8" r="20.2" fill="none" stroke="#5a5a5a" stroke-width="0.55"/>
<circle cx="330.3" cy="147.8" r="9.2" fill="none" stroke="#303030" stroke-width="0.95" stroke-dasharray="2.6 1.7"/>
<circle cx="330.3" cy="147.8" r="1.4" fill="none" stroke="#5a5a5a" stroke-width="0.55"/>
<circle cx="330.30" cy="130.60" r="1.6" fill="#fff" stroke="#5a5a5a" stroke-width="0.55"/>
<circle cx="346.66" cy="142.48" r="1.6" fill="#fff" stroke="#5a5a5a" stroke-width="0.55"/>
<circle cx="340.41" cy="161.72" r="1.6" fill="#fff" stroke="#5a5a5a" stroke-width="0.55"/>
<circle cx="320.19" cy="161.72" r="1.6" fill="#fff" stroke="#5a5a5a" stroke-width="0.55"/>
<circle cx="313.94" cy="142.48" r="1.6" fill="#fff" stroke="#5a5a5a" stroke-width="0.55"/>
<path d="M343.12,127.28 A24.2,24.2 0 0 1 354.49,146.96" fill="none" stroke="#5a5a5a" stroke-width="0.55"/>
<text x="355.2" y="134.8" font-size="5.6" text-anchor="middle" fill="#777" stroke="none">φ</text>
<text x="303.40000000000003" y="49.0" font-size="10" text-anchor="end" >π</text>
<text x="302.2" y="110.29999999999998" font-size="10" text-anchor="end" >0</text>
<text x="303.8" y="173.79999999999998" font-size="10" text-anchor="end" >- π</text>
<text x="306.2" y="184.0" font-size="10" text-anchor="middle" >0</text>
<text x="386.29999999999995" y="184.1" font-size="9.5" text-anchor="middle" >π</text>
<text x="467.6" y="184.2" font-size="10" text-anchor="middle" >2<tspan font-size="9.5">π</tspan></text>
<text x="387.0" y="197.8" font-size="10.3" text-anchor="middle" >Azimuthal angle φ</text>
<text x="290.2" y="109.6" font-size="10.2" text-anchor="middle" transform="rotate(-90 290.2 109.6)" >Simulated Phase</text>
<rect x="306.7" y="250.6" width="160.3" height="128.4" fill="none" stroke="#121212" stroke-width="1.3"/>
<line x1="306.7" y1="314.8" x2="308.9" y2="314.8" stroke="#1c1c1c" stroke-width="0.9"/>
<line x1="386.85" y1="379.0" x2="386.85" y2="376.6" stroke="#1c1c1c" stroke-width="0.9"/>
<clipPath id="pce"><rect x="306.7" y="250.6" width="160.3" height="128.4"/></clipPath>
<path d="M306.70,293.43 L307.10,293.85 L307.50,294.27 L307.90,294.68 L308.30,295.09 L308.70,295.49 L309.10,295.89 L309.51,296.27 L309.91,296.65 L310.31,297.02 L310.71,297.37 L311.11,297.72 L311.51,298.06 L311.91,298.39 L312.31,298.70 L312.71,299.01 L313.11,299.30 L313.51,299.58 L313.91,299.86 L314.31,300.12 L314.71,300.37 L315.12,300.61 L315.52,300.84 L315.92,301.07 L316.32,301.28 L316.72,301.49 L317.12,301.69 L317.52,301.88 L317.92,302.07 L318.32,302.25 L318.72,302.43 L319.12,302.60 L319.52,302.77 L319.92,302.94 L320.33,303.11 L320.73,303.28 L321.13,303.45 L321.53,303.62 L321.93,303.80 L322.33,303.98 L322.73,304.16 L323.13,304.35 L323.53,304.54 L323.93,304.74 L324.33,304.95 L324.73,305.17 L325.13,305.39 L325.54,305.62 L325.94,305.87 L326.34,306.12 L326.74,306.38 L327.14,306.66 L327.54,306.94 L327.94,307.24 L328.34,307.54 L328.74,307.86 L329.14,308.19 L329.54,308.53 L329.94,308.88 L330.34,309.24 L330.75,309.60 L331.15,309.98 L331.55,310.37 L331.95,310.77 L332.35,311.17 L332.75,311.58 L333.15,312.00 L333.55,312.42 L333.95,312.85 L334.35,313.28 L334.75,313.71 L335.15,314.15 L335.55,314.59 L335.95,315.03 L336.36,315.46 L336.76,315.90 L337.16,316.33 L337.56,316.77 L337.96,317.19 L338.36,317.62 L338.76,318.03 L339.16,318.45 L339.56,318.85 L339.96,319.25 L340.36,319.63 L340.76,320.01 L341.16,320.39 L341.57,320.75 L341.97,321.10 L342.37,321.44 L342.77,321.77 L343.17,322.09 L343.57,322.40 L343.97,322.69 L344.37,322.98 L344.77,323.26 L345.17,323.52 L345.57,323.78 L345.97,324.03 L346.37,324.26 L346.77,324.49 L347.18,324.71 L347.58,324.92 L347.98,325.13 L348.38,325.33 L348.78,325.52 L349.18,325.71 L349.58,325.89 L349.98,326.07 L350.38,326.25 L350.78,326.42 L351.18,326.60 L351.58,326.77 L351.98,326.95 L352.39,327.13 L352.79,327.31 L353.19,327.49 L353.59,327.68 L353.99,327.88 L354.39,328.08 L354.79,328.29 L355.19,328.50 L355.59,328.72 L355.99,328.96 L356.39,329.20 L356.79,329.45 L357.19,329.71 L357.60,329.98 L358.00,330.26 L358.40,330.55 L358.80,330.86 L359.20,331.17 L359.60,331.50 L360.00,331.84 L360.40,332.18 L360.80,332.54 L361.20,332.91 L361.60,333.29 L362.00,333.68 L362.40,334.07 L362.81,334.48 L363.21,334.89 L363.61,335.31 L364.01,335.73 L364.41,336.16 L364.81,336.60 L365.21,337.04 L365.61,337.48 L366.01,337.93 L366.41,338.37 L366.81,338.82 L367.21,339.27 L367.61,339.71 L368.01,340.16 L368.42,340.60 L368.82,341.03 L369.22,341.47 L369.62,341.89 L370.02,342.31 L370.42,342.72 L370.82,343.13 L371.22,343.53 L371.62,343.92 L372.02,344.30 L372.42,344.66 L372.82,345.02 L373.22,345.37 L373.63,345.71 L374.03,346.04 L374.43,346.36 L374.83,346.67 L375.23,346.96 L375.63,347.25 L376.03,347.52 L376.43,347.79 L376.83,348.04 L377.23,348.29 L377.63,348.53 L378.03,348.76 L378.43,348.98 L378.83,349.19 L379.24,349.40 L379.64,349.60 L380.04,349.80 L380.44,349.99 L380.84,350.18 L381.24,350.37 L381.64,350.56 L382.04,350.74 L382.44,350.93 L382.84,351.12 L383.24,351.30 L383.64,351.50 L384.04,351.69 L384.45,351.89 L384.85,352.10 L385.25,352.31 L385.65,352.53 L386.05,352.76 L386.45,352.99 L386.85,353.23 L387.25,353.49 L387.65,353.75 L388.05,354.02 L388.45,354.31 L388.85,354.60 L389.25,354.90 L389.66,355.22 L390.06,355.55 L390.46,355.88 L390.86,356.23 L391.26,356.59 L391.66,356.96 L392.06,357.34 L392.46,357.73 L392.86,358.13 L393.26,358.54 L393.66,358.96 L394.06,359.38 L394.46,359.81 L394.87,360.25 L395.27,360.69 L395.67,361.14 L396.07,361.59 L396.47,362.04 L396.87,362.50 L397.27,362.96 L397.67,363.42 L398.07,363.88 L398.47,364.33 L398.87,364.79 L399.27,365.24 L399.67,365.69 L400.07,366.13 L400.48,366.57 L400.88,367.00 L401.28,367.42 L401.68,367.84 L402.08,368.24 L402.48,368.64 L402.88,369.03 L403.28,369.41 L403.68,369.78 L404.08,370.14 L404.48,370.49 L404.88,370.83 L405.28,371.16 L405.69,371.48 L406.09,371.79 L406.49,372.08 L406.89,372.37 L407.29,372.64 L407.69,372.91 L408.09,373.17 L408.49,373.41 L408.89,373.65 L409.29,373.89 L409.69,374.11 L410.09,374.33 L410.49,374.54 L410.89,374.75 L411.30,374.96 L411.70,375.16 L412.10,375.36 L412.50,375.55 L412.90,375.75 L413.30,375.95 L413.70,376.14 L414.10,376.35 L414.50,376.55 L414.90,376.76 L415.30,376.97 L415.70,377.19 L416.10,377.41 L416.51,377.64 L416.91,377.88 L417.31,378.12 L417.71,378.38 L418.11,378.64 L418.51,378.92" fill="none" stroke="#1c1a80" stroke-width="1.85" clip-path="url(#pce)" stroke-linecap="square"/>
<path d="M418.91,250.80 L419.31,251.10 L419.71,251.40 L420.11,251.72 L420.51,252.05 L420.91,252.38 L421.31,252.73 L421.72,253.09 L422.12,253.46 L422.52,253.84 L422.92,254.24 L423.32,254.64 L423.72,255.05 L424.12,255.47 L424.52,255.89 L424.92,256.33 L425.32,256.77 L425.72,257.22 L426.12,257.67 L426.52,258.13 L426.92,258.59 L427.33,259.06 L427.73,259.52 L428.13,259.99 L428.53,260.46 L428.93,260.93 L429.33,261.39 L429.73,261.86 L430.13,262.32 L430.53,262.78 L430.93,263.23 L431.33,263.67 L431.73,264.11 L432.13,264.55 L432.54,264.97 L432.94,265.39 L433.34,265.80 L433.74,266.20 L434.14,266.58 L434.54,266.96 L434.94,267.33 L435.34,267.69 L435.74,268.04 L436.14,268.37 L436.54,268.70 L436.94,269.01 L437.34,269.32 L437.75,269.61 L438.15,269.89 L438.55,270.17 L438.95,270.43 L439.35,270.69 L439.75,270.94 L440.15,271.18 L440.55,271.41 L440.95,271.64 L441.35,271.86 L441.75,272.07 L442.15,272.29 L442.55,272.49 L442.95,272.70 L443.36,272.91 L443.76,273.11 L444.16,273.32 L444.56,273.52 L444.96,273.73 L445.36,273.94 L445.76,274.16 L446.16,274.38 L446.56,274.60 L446.96,274.83 L447.36,275.07 L447.76,275.32 L448.16,275.57 L448.57,275.83 L448.97,276.11 L449.37,276.39 L449.77,276.68 L450.17,276.98 L450.57,277.30 L450.97,277.62 L451.37,277.95 L451.77,278.30 L452.17,278.66 L452.57,279.02 L452.97,279.40 L453.37,279.79 L453.78,280.19 L454.18,280.60 L454.58,281.01 L454.98,281.44 L455.38,281.87 L455.78,282.31 L456.18,282.76 L456.58,283.22 L456.98,283.67 L457.38,284.14 L457.78,284.61 L458.18,285.08 L458.58,285.55 L458.99,286.02 L459.39,286.49 L459.79,286.97 L460.19,287.44 L460.59,287.91 L460.99,288.37 L461.39,288.83 L461.79,289.29 L462.19,289.74 L462.59,290.18 L462.99,290.62 L463.39,291.05 L463.79,291.47 L464.19,291.88 L464.60,292.28 L465.00,292.67 L465.40,293.06 L465.80,293.43 L466.20,293.79 L466.60,294.14 L467.00,294.48" fill="none" stroke="#1c1a80" stroke-width="1.85" clip-path="url(#pce)" stroke-linecap="square"/>
<circle cx="330.3" cy="355.6" r="20.2" fill="none" stroke="#5a5a5a" stroke-width="0.55"/>
<circle cx="330.3" cy="355.6" r="9.2" fill="none" stroke="#303030" stroke-width="0.95" stroke-dasharray="2.6 1.7"/>
<circle cx="330.3" cy="355.6" r="1.4" fill="none" stroke="#5a5a5a" stroke-width="0.55"/>
<circle cx="330.30" cy="338.40" r="1.6" fill="#fff" stroke="#5a5a5a" stroke-width="0.55"/>
<circle cx="346.66" cy="350.28" r="1.6" fill="#fff" stroke="#5a5a5a" stroke-width="0.55"/>
<circle cx="340.41" cy="369.52" r="1.6" fill="#fff" stroke="#5a5a5a" stroke-width="0.55"/>
<circle cx="320.19" cy="369.52" r="1.6" fill="#fff" stroke="#5a5a5a" stroke-width="0.55"/>
<circle cx="313.94" cy="350.28" r="1.6" fill="#fff" stroke="#5a5a5a" stroke-width="0.55"/>
<path d="M343.12,335.08 A24.2,24.2 0 0 1 354.49,354.76" fill="none" stroke="#5a5a5a" stroke-width="0.55"/>
<text x="355.2" y="342.6" font-size="5.6" text-anchor="middle" fill="#777" stroke="none">φ</text>
<text x="303.3" y="255.0" font-size="10" text-anchor="end" >π</text>
<text x="302.09999999999997" y="318.40000000000003" font-size="10" text-anchor="end" >0</text>
<text x="303.7" y="379.4" font-size="10" text-anchor="end" >- π</text>
<text x="306.09999999999997" y="389.4" font-size="10" text-anchor="middle" >0</text>
<text x="386.25" y="389.5" font-size="9.5" text-anchor="middle" >π</text>
<text x="467.6" y="389.59999999999997" font-size="10" text-anchor="middle" >2<tspan font-size="9.5">π</tspan></text>
<text x="387.0" y="404.7" font-size="10.3" text-anchor="middle" >Azimuthal angle φ</text>
<text x="290.2" y="314.7" font-size="10.2" text-anchor="middle" transform="rotate(-90 290.2 314.7)" >Simulated Phase</text>
<path d="M501.8,40.9 Q533.5,35.699999999999996 565.2,36.9 Q600.45,35.699999999999996 635.7,40.9 L635.7,169.4 Q623.1500000000001,175.0 606.6,174.4 Q589.9000000000001,171.3 565.2,171.9 Q540.2,171.3 523.2,174.4 Q510.5,174.0 501.8,168.4 Z" fill="#040404"/>
<clipPath id="bcc"><path d="M523.2,45.9 Q540.2,41.6 565.2,41.4 Q589.9000000000001,41.6 606.6,45.9 L606.6,174.4 Q589.9000000000001,171.3 565.2,171.9 Q540.2,171.3 523.2,174.4 Z"/></clipPath>
<g clip-path="url(#bcc)">
<path d="M551.70,39.40 L552.13,40.91 L552.03,42.41 L551.90,43.92 L552.03,45.42 L551.85,46.93 L551.32,48.43 L551.20,49.94 L551.50,51.44 L551.54,52.95 L551.51,54.46 L551.92,55.96 L552.28,57.47 L552.04,58.97 L551.73,60.48 L551.77,61.98 L551.62,63.49 L551.19,64.99 L551.19,66.50 L551.64,68.01 L551.81,69.51 L551.76,71.02 L552.05,72.52 L552.27,74.03 L551.90,75.53 L551.48,77.04 L551.51,78.54 L551.49,80.05 L551.22,81.56 L551.34,83.06 L551.88,84.57 L552.07,86.07 L551.91,87.58 L552.01,89.08 L552.11,90.59 L551.67,92.09 L551.24,93.60 L551.36,95.11 L551.52,96.61 L551.40,98.12 L551.58,99.62 L552.10,101.13 L552.21,102.63 L551.89,104.14 L551.82,105.64 L551.85,107.15 L551.46,108.66 L551.11,110.16 L551.36,111.67 L551.70,113.17 L551.67,114.68 L551.80,116.18 L552.22,117.69 L552.20,119.19 L551.73,120.70 L551.55,122.21 L551.61,123.71 L551.35,125.22 L551.14,126.72 L551.52,128.23 L551.95,129.73 L551.92,131.24 L551.91,132.74 L552.17,134.25 L552.04,135.76 L551.49,137.26 L551.30,138.77 L551.48,140.27 L551.41,141.78 L551.32,143.28 L551.75,144.79 L552.18,146.29 L552.06,147.80 L551.86,149.31 L551.97,150.81 L551.80,152.32 L551.28,153.82 L551.17,155.33 L551.52,156.83 L551.61,158.34 L551.58,159.84 L551.96,161.35 L552.30,162.86 L552.03,164.36 L551.67,165.87 L551.69,167.37 L551.58,168.88 L551.18,170.38 L551.21,171.89 L551.69,173.39 L551.89,174.90 L579.84,174.90 L579.70,173.39 L579.79,171.89 L579.85,170.38 L579.48,168.88 L579.01,167.37 L579.02,165.87 L579.34,164.36 L579.43,162.86 L579.41,161.35 L579.70,159.84 L580.07,158.34 L579.95,156.83 L579.49,155.33 L579.28,153.82 L579.35,152.32 L579.23,150.81 L579.02,149.31 L579.21,147.80 L579.73,146.29 L579.96,144.79 L579.77,143.28 L579.68,141.78 L579.76,140.27 L579.56,138.77 L579.08,137.26 L578.93,135.76 L579.26,134.25 L579.54,132.74 L579.53,131.24 L579.63,129.73 L579.97,128.23 L580.02,126.72 L579.58,125.22 L579.19,123.71 L579.23,122.21 L579.30,120.70 L579.14,119.19 L579.17,117.69 L579.63,116.18 L580.02,114.68 L579.89,113.17 L579.63,111.67 L579.62,110.16 L579.58,108.66 L579.20,107.15 L578.90,105.64 L579.14,104.14 L579.57,102.63 L579.67,101.13 L579.63,99.62 L579.84,98.12 L580.01,96.61 L579.69,95.11 L579.19,93.60 L579.09,92.09 L579.28,90.59 L579.28,89.08 L579.21,87.58 L579.53,86.07 L580.00,84.57 L580.02,83.06 L579.66,81.56 L579.48,80.05 L579.51,78.54 L579.30,77.04 L578.96,75.53 L579.04,74.03 L579.53,72.52 L579.80,71.02 L579.71,69.51 L579.74,68.01 L579.92,66.50 L579.77,64.99 L579.25,63.49 L578.99,61.98 L579.19,60.48 L579.38,58.97 L579.33,57.47 L579.46,55.96 L579.90,54.46 L580.09,52.95 L579.75,51.44 L579.40,49.94 L579.38,48.43 L579.35,46.93 L579.08,45.42 L579.00,43.92 L579.43,42.41 L579.86,40.91 L579.85,39.40 Z" fill="#360505" filter="url(#b12)" opacity="1.0"/>
<path d="M553.44,39.40 L553.57,40.91 L553.20,42.41 L553.26,43.92 L553.27,45.42 L552.58,46.93 L552.06,48.43 L552.42,49.94 L552.76,51.44 L552.66,52.95 L552.98,54.46 L553.68,55.96 L553.64,57.47 L553.02,58.97 L552.88,60.48 L552.89,61.98 L552.35,63.49 L552.02,64.99 L552.59,66.50 L553.13,68.01 L553.06,69.51 L553.22,71.02 L553.70,72.52 L553.47,74.03 L552.68,75.53 L552.47,77.04 L552.63,78.54 L552.35,80.05 L552.22,81.56 L552.91,83.06 L553.51,84.57 L553.33,86.07 L553.23,87.58 L553.47,89.08 L553.13,90.59 L552.32,92.09 L552.20,93.60 L552.61,95.11 L552.59,96.61 L552.58,98.12 L553.25,99.62 L553.76,101.13 L553.38,102.63 L553.00,104.14 L553.08,105.64 L552.78,107.15 L552.11,108.66 L552.16,110.16 L552.81,111.67 L552.98,113.17 L552.95,114.68 L553.46,116.18 L553.77,117.69 L553.19,119.19 L552.62,120.70 L552.69,122.21 L552.57,123.71 L552.12,125.22 L552.36,126.72 L553.16,128.23 L553.38,129.73 L553.18,131.24 L553.43,132.74 L553.54,134.25 L552.85,135.76 L552.25,137.26 L552.44,138.77 L552.59,140.27 L552.38,141.78 L552.71,143.28 L553.51,144.79 L553.62,146.29 L553.18,147.80 L553.16,149.31 L553.17,150.81 L552.52,152.32 L552.02,153.82 L552.43,155.33 L552.85,156.83 L552.77,158.34 L553.05,159.84 L553.70,161.35 L553.63,162.86 L552.95,164.36 L552.76,165.87 L552.81,167.37 L552.34,168.88 L552.05,170.38 L552.64,171.89 L553.23,173.39 L553.16,174.90 L578.69,174.90 L578.57,173.39 L578.69,171.89 L578.98,170.38 L578.69,168.88 L577.90,167.37 L577.57,165.87 L577.88,164.36 L578.07,162.86 L577.97,161.35 L578.25,159.84 L578.95,158.34 L579.17,156.83 L578.64,155.33 L578.18,153.82 L578.20,152.32 L578.08,150.81 L577.61,149.31 L577.55,147.80 L578.22,146.29 L578.81,144.79 L578.75,143.28 L578.60,141.78 L578.79,140.27 L578.74,138.77 L578.06,137.26 L577.49,135.76 L577.70,134.25 L578.15,132.74 L578.19,131.24 L578.24,129.73 L578.77,128.23 L579.19,126.72 L578.81,125.22 L578.14,123.71 L577.98,122.21 L578.07,120.70 L577.80,119.19 L577.58,117.69 L578.06,116.18 L578.82,114.68 L578.96,113.17 L578.63,111.67 L578.59,110.16 L578.67,108.66 L578.22,107.15 L577.53,105.64 L577.52,104.14 L578.09,102.63 L578.39,101.13 L578.34,99.62 L578.61,98.12 L579.10,96.61 L578.96,95.11 L578.21,93.60 L577.79,92.09 L577.94,90.59 L577.96,89.08 L577.72,87.58 L577.94,86.07 L578.71,84.57 L579.11,83.06 L578.77,81.56 L578.44,80.05 L578.49,78.54 L578.31,77.04 L577.68,75.53 L577.42,74.03 L577.95,72.52 L578.51,71.02 L578.54,69.51 L578.54,68.01 L578.92,66.50 L579.01,64.99 L578.37,63.49 L577.71,61.98 L577.74,60.48 L578.01,58.97 L577.93,57.47 L577.94,55.96 L578.55,54.46 L579.14,52.95 L578.96,51.44 L578.41,49.94 L578.27,48.43 L578.28,46.93 L577.86,45.42 L577.44,43.92 L577.78,42.41 L578.51,40.91 L578.75,39.40 Z" fill="#700a0a" filter="url(#b08)" opacity="1.0"/>
<path d="M555.94,39.40 L555.49,40.91 L555.21,42.41 L555.39,43.92 L554.83,45.42 L553.87,46.93 L553.97,48.43 L554.68,49.94 L554.74,51.44 L554.81,52.95 L555.66,54.46 L556.08,55.96 L555.33,57.47 L554.75,58.97 L554.85,60.48 L554.47,61.98 L553.77,63.49 L554.13,64.99 L555.11,66.50 L555.29,68.01 L555.19,69.51 L555.73,71.02 L555.88,72.52 L554.92,74.03 L554.22,75.53 L554.44,77.04 L554.39,78.54 L554.00,80.05 L554.54,81.56 L555.61,83.06 L555.71,84.57 L555.30,86.07 L555.48,87.58 L555.44,89.08 L554.45,90.59 L553.82,92.09 L554.31,93.60 L554.64,95.11 L554.48,96.61 L555.02,98.12 L555.96,99.62 L555.84,101.13 L555.08,102.63 L554.98,104.14 L554.93,105.64 L554.12,107.15 L553.73,108.66 L554.51,110.16 L555.12,111.67 L555.02,113.17 L555.35,114.68 L556.02,116.18 L555.63,117.69 L554.60,119.19 L554.39,120.70 L554.52,122.21 L554.01,123.71 L553.87,125.22 L554.82,126.72 L555.52,128.23 L555.26,129.73 L555.22,131.24 L555.56,132.74 L555.01,134.25 L553.90,135.76 L553.77,137.26 L554.20,138.77 L554.04,140.27 L554.04,141.78 L554.97,143.28 L555.55,144.79 L554.99,146.29 L554.57,147.80 L554.67,149.31 L554.13,150.81 L553.17,152.32 L553.28,153.82 L554.05,155.33 L554.14,156.83 L554.13,158.34 L554.86,159.84 L555.20,161.35 L554.35,162.86 L553.66,164.36 L553.74,165.87 L553.42,167.37 L552.75,168.88 L553.11,170.38 L554.10,171.89 L554.27,173.39 L554.05,174.90 L577.54,174.90 L577.49,173.39 L577.55,171.89 L578.09,170.38 L578.11,168.88 L577.16,167.37 L576.32,165.87 L576.38,164.36 L576.61,162.86 L576.38,161.35 L576.41,159.84 L577.27,158.34 L577.97,156.83 L577.63,155.33 L576.94,153.82 L576.80,152.32 L576.72,150.81 L576.02,149.31 L575.46,147.80 L575.95,146.29 L576.85,144.79 L577.04,143.28 L576.85,141.78 L577.13,140.27 L577.41,138.77 L576.76,137.26 L575.75,135.76 L575.57,134.25 L576.06,132.74 L576.19,131.24 L576.09,129.73 L576.67,128.23 L577.55,126.72 L577.54,125.22 L576.73,123.71 L576.29,122.21 L576.36,120.70 L576.06,119.19 L575.47,117.69 L575.67,116.18 L576.68,114.68 L577.25,113.17 L577.03,111.67 L576.93,110.16 L577.20,108.66 L576.91,107.15 L575.90,105.64 L575.39,104.14 L575.87,102.63 L576.37,101.13 L576.34,99.62 L576.55,98.12 L577.34,96.61 L577.66,95.11 L576.93,93.60 L576.14,92.09 L576.10,90.59 L576.15,89.08 L575.71,87.58 L575.61,86.07 L576.47,84.57 L577.35,83.06 L577.29,81.56 L576.87,80.05 L576.92,78.54 L576.91,77.04 L576.13,75.53 L575.35,74.03 L575.63,72.52 L576.41,71.02 L576.63,69.51 L576.60,68.01 L577.10,66.50 L577.62,64.99 L577.15,63.49 L576.15,61.98 L575.82,60.48 L576.07,58.97 L575.97,57.47 L575.72,55.96 L576.27,54.46 L577.29,52.95 L577.54,51.44 L576.97,49.94 L576.66,48.43 L576.74,46.93 L576.31,45.42 L575.48,43.92 L575.43,42.41 L576.28,40.91 L576.87,39.40 Z" fill="#980f0b" filter="url(#b08)" opacity="1.0"/>
<ellipse cx="554.1" cy="48.4" rx="1.1" ry="2.2" fill="#e02c10" opacity="0.6" filter="url(#b05)"/>
<ellipse cx="576.9" cy="52.4" rx="1.1" ry="2.2" fill="#e02c10" opacity="0.6" filter="url(#b05)"/>
<ellipse cx="554.1" cy="62.1" rx="1.1" ry="2.2" fill="#e02c10" opacity="0.6" filter="url(#b05)"/>
<ellipse cx="576.9" cy="66.1" rx="1.1" ry="2.2" fill="#e02c10" opacity="0.6" filter="url(#b05)"/>
<ellipse cx="554.1" cy="75.8" rx="1.1" ry="2.2" fill="#e02c10" opacity="0.6" filter="url(#b05)"/>
<ellipse cx="576.9" cy="79.8" rx="1.1" ry="2.2" fill="#e02c10" opacity="0.6" filter="url(#b05)"/>
<ellipse cx="554.1" cy="89.6" rx="1.1" ry="2.2" fill="#e02c10" opacity="0.6" filter="url(#b05)"/>
<ellipse cx="576.9" cy="93.6" rx="1.1" ry="2.2" fill="#e02c10" opacity="0.6" filter="url(#b05)"/>
<ellipse cx="554.1" cy="103.3" rx="1.1" ry="2.2" fill="#e02c10" opacity="0.6" filter="url(#b05)"/>
<ellipse cx="576.9" cy="107.3" rx="1.1" ry="2.2" fill="#e02c10" opacity="0.6" filter="url(#b05)"/>
<ellipse cx="554.1" cy="117.0" rx="1.1" ry="2.2" fill="#e02c10" opacity="0.6" filter="url(#b05)"/>
<ellipse cx="576.9" cy="121.0" rx="1.1" ry="2.2" fill="#e02c10" opacity="0.6" filter="url(#b05)"/>
<ellipse cx="554.1" cy="130.7" rx="1.1" ry="2.2" fill="#e02c10" opacity="0.6" filter="url(#b05)"/>
<ellipse cx="576.9" cy="134.7" rx="1.1" ry="2.2" fill="#e02c10" opacity="0.6" filter="url(#b05)"/>
<ellipse cx="554.1" cy="144.5" rx="1.1" ry="2.2" fill="#e02c10" opacity="0.6" filter="url(#b05)"/>
<ellipse cx="576.9" cy="148.5" rx="1.1" ry="2.2" fill="#e02c10" opacity="0.6" filter="url(#b05)"/>
<ellipse cx="554.1" cy="158.2" rx="1.1" ry="2.2" fill="#e02c10" opacity="0.6" filter="url(#b05)"/>
<ellipse cx="576.9" cy="162.2" rx="1.1" ry="2.2" fill="#e02c10" opacity="0.6" filter="url(#b05)"/>
<ellipse cx="554.1" cy="171.9" rx="1.1" ry="2.2" fill="#e02c10" opacity="0.6" filter="url(#b05)"/>
<ellipse cx="576.9" cy="175.9" rx="1.1" ry="2.2" fill="#e02c10" opacity="0.6" filter="url(#b05)"/>
<path d="M560.63,39.40 L560.15,40.91 L560.07,42.41 L560.02,43.92 L559.22,45.42 L558.56,46.93 L558.80,48.43 L559.08,49.94 L558.85,51.44 L558.95,52.95 L559.44,54.46 L559.21,55.96 L558.37,57.47 L558.00,58.97 L557.91,60.48 L557.30,61.98 L556.84,63.49 L557.27,64.99 L557.72,66.50 L557.50,68.01 L557.48,69.51 L557.75,71.02 L557.38,72.52 L556.43,74.03 L556.05,75.53 L556.15,77.04 L555.83,78.54 L555.58,80.05 L556.12,81.56 L556.62,83.06 L556.40,84.57 L556.17,86.07 L556.34,87.58 L556.02,89.08 L555.21,90.59 L555.08,92.09 L555.55,93.60 L555.61,95.11 L555.57,96.61 L556.18,98.12 L556.65,99.62 L556.22,101.13 L555.73,102.63 L555.77,104.14 L555.53,105.64 L554.89,107.15 L554.95,108.66 L555.64,110.16 L555.86,111.67 L555.76,113.17 L556.16,114.68 L556.43,116.18 L555.82,117.69 L555.18,119.19 L555.24,120.70 L555.21,122.21 L554.81,123.71 L555.04,125.22 L555.84,126.72 L556.06,128.23 L555.78,129.73 L555.91,131.24 L555.99,132.74 L555.30,134.25 L554.65,135.76 L554.85,137.26 L555.07,138.77 L554.88,140.27 L555.14,141.78 L555.88,143.28 L555.95,144.79 L555.40,146.29 L555.26,147.80 L555.25,149.31 L554.62,150.81 L554.12,152.32 L554.52,153.82 L554.99,155.33 L554.91,156.83 L555.08,158.34 L555.64,159.84 L555.52,161.35 L554.75,162.86 L554.47,164.36 L554.53,165.87 L554.13,167.37 L553.83,168.88 L554.41,170.38 L555.01,171.89 L554.89,173.39 L554.83,174.90 L576.53,174.90 L576.55,173.39 L576.55,171.89 L576.97,170.38 L577.18,168.88 L576.61,167.37 L575.88,165.87 L575.76,164.36 L575.90,162.86 L575.71,161.35 L575.58,159.84 L576.12,158.34 L576.78,156.83 L576.72,155.33 L576.23,153.82 L576.07,152.32 L576.06,150.81 L575.57,149.31 L574.98,147.80 L575.12,146.29 L575.76,144.79 L576.02,143.28 L575.89,141.78 L576.06,140.27 L576.35,138.77 L576.02,137.26 L575.19,135.76 L574.83,134.25 L575.08,132.74 L575.18,131.24 L575.03,129.73 L575.32,128.23 L576.04,126.72 L576.25,125.22 L575.74,123.71 L575.32,122.21 L575.33,120.70 L575.14,119.19 L574.59,117.69 L574.50,116.18 L575.15,114.68 L575.69,113.17 L575.62,111.67 L575.53,110.16 L575.76,108.66 L575.69,107.15 L574.97,105.64 L574.38,104.14 L574.55,102.63 L574.91,101.13 L574.89,99.62 L574.94,98.12 L575.52,96.61 L575.94,95.11 L575.56,93.60 L574.91,92.09 L574.76,90.59 L574.79,89.08 L574.43,87.58 L574.16,86.07 L574.63,84.57 L575.36,83.06 L575.44,81.56 L575.09,80.05 L575.05,78.54 L575.07,77.04 L574.50,75.53 L573.72,74.03 L573.63,72.52 L574.08,71.02 L574.24,69.51 L574.27,68.01 L574.63,66.50 L575.18,64.99 L575.07,63.49 L574.37,61.98 L574.01,60.48 L574.15,58.97 L574.11,57.47 L573.84,55.96 L574.00,54.46 L574.69,52.95 L575.00,51.44 L574.61,49.94 L574.28,48.43 L574.28,46.93 L573.97,45.42 L573.21,43.92 L572.94,42.41 L573.49,40.91 L574.04,39.40 Z" fill="#e04c10" filter="url(#b05)" opacity="1.0"/>
<path d="M561.28,39.40 L560.84,40.91 L560.89,42.41 L560.62,43.92 L559.73,45.42 L559.41,46.93 L559.84,48.43 L559.93,49.94 L559.71,51.44 L560.02,52.95 L560.34,54.46 L559.75,55.96 L558.97,57.47 L558.81,58.97 L558.58,60.48 L557.91,61.98 L557.79,63.49 L558.40,64.99 L558.59,66.50 L558.29,68.01 L558.42,69.51 L558.55,71.02 L557.85,72.52 L557.00,74.03 L556.91,75.53 L556.94,77.04 L556.55,78.54 L556.58,80.05 L557.26,81.56 L557.45,83.06 L557.07,84.57 L556.99,86.07 L557.08,87.58 L556.49,89.08 L555.83,90.59 L556.05,92.09 L556.47,93.60 L556.40,95.11 L556.57,96.61 L557.26,98.12 L557.39,99.62 L556.76,101.13 L556.47,102.63 L556.53,104.14 L556.08,105.64 L555.60,107.15 L556.02,108.66 L556.65,110.16 L556.65,111.67 L556.68,113.17 L557.14,114.68 L557.08,116.18 L556.28,117.69 L555.90,119.19 L556.07,120.70 L555.88,122.21 L555.62,123.71 L556.17,125.22 L556.87,126.72 L556.79,128.23 L556.57,129.73 L556.78,131.24 L556.59,132.74 L555.77,134.25 L555.43,135.76 L555.80,137.26 L555.86,138.77 L555.73,140.27 L556.26,141.78 L556.86,143.28 L556.58,144.79 L556.06,146.29 L556.06,147.80 L555.86,149.31 L555.15,150.81 L554.99,152.32 L555.59,153.82 L555.86,155.33 L555.75,156.83 L556.11,158.34 L556.52,159.84 L556.04,161.35 L555.33,162.86 L555.28,164.36 L555.24,165.87 L554.76,167.37 L554.79,168.88 L555.54,170.38 L555.88,171.89 L555.64,173.39 L555.74,174.90 L575.58,174.90 L575.66,173.39 L575.62,171.89 L576.03,170.38 L576.42,168.88 L576.04,167.37 L575.28,165.87 L575.02,164.36 L575.12,162.86 L574.93,161.35 L574.67,159.84 L575.06,158.34 L575.80,156.83 L575.95,155.33 L575.54,153.82 L575.35,152.32 L575.39,150.81 L574.98,149.31 L574.28,147.80 L574.18,146.29 L574.75,144.79 L575.11,143.28 L575.02,141.78 L575.15,140.27 L575.55,138.77 L575.43,137.26 L574.64,135.76 L574.12,134.25 L574.25,132.74 L574.36,131.24 L574.16,129.73 L574.31,128.23 L575.02,126.72 L575.44,125.22 L575.09,123.71 L574.65,122.21 L574.62,120.70 L574.50,119.19 L573.92,117.69 L573.61,116.18 L574.11,114.68 L574.73,113.17 L574.78,111.67 L574.68,110.16 L574.95,108.66 L575.05,107.15 L574.44,105.64 L573.72,104.14 L573.70,102.63 L574.03,101.13 L574.02,99.62 L573.98,98.12 L574.50,96.61 L575.09,95.11 L574.92,93.60 L574.30,92.09 L574.06,90.59 L574.08,89.08 L573.74,87.58 L573.32,86.07 L573.59,84.57 L574.34,83.06 L574.59,81.56 L574.31,80.05 L574.25,78.54 L574.38,77.04 L573.95,75.53 L573.11,74.03 L572.79,72.52 L573.13,71.02 L573.34,69.51 L573.36,68.01 L573.65,66.50 L574.29,64.99 L574.41,63.49 L573.81,61.98 L573.33,60.48 L573.39,58.97 L573.38,57.47 L573.04,55.96 L572.99,54.46 L573.63,52.95 L574.11,51.44 L573.88,49.94 L573.54,48.43 L573.56,46.93 L573.37,45.42 L572.62,43.92 L572.14,42.41 L572.51,40.91 L573.08,39.40 Z" fill="#ffc624" filter="url(#b05)" opacity="1.0"/>
<path d="M562.85,39.40 L562.55,40.91 L562.56,42.41 L562.04,43.92 L561.26,45.42 L561.27,46.93 L561.62,48.43 L561.47,49.94 L561.34,51.44 L561.68,52.95 L561.64,54.46 L560.81,55.96 L560.20,57.47 L560.07,58.97 L559.62,60.48 L559.01,61.98 L559.15,63.49 L559.62,64.99 L559.47,66.50 L559.14,68.01 L559.31,69.51 L559.16,71.02 L558.30,72.52 L557.74,74.03 L557.83,75.53 L557.71,77.04 L557.38,78.54 L557.68,80.05 L558.23,81.56 L558.08,83.06 L557.71,84.57 L557.77,86.07 L557.66,87.58 L556.97,89.08 L556.63,90.59 L557.05,92.09 L557.30,93.60 L557.20,95.11 L557.56,96.61 L558.11,98.12 L557.88,99.62 L557.29,101.13 L557.20,102.63 L557.15,104.14 L556.62,105.64 L556.46,107.15 L557.07,108.66 L557.47,110.16 L557.34,111.67 L557.52,113.17 L557.86,114.68 L557.47,116.18 L556.75,117.69 L556.66,119.19 L556.79,120.70 L556.50,122.21 L556.50,123.71 L557.20,125.22 L557.61,126.72 L557.34,128.23 L557.26,129.73 L557.41,131.24 L556.96,132.74 L556.25,134.25 L556.26,135.76 L556.61,137.26 L556.53,138.77 L556.58,140.27 L557.20,141.78 L557.47,143.28 L556.97,144.79 L556.64,146.29 L556.67,147.80 L556.28,149.31 L555.70,150.81 L555.89,152.32 L556.46,153.82 L556.50,155.33 L556.47,156.83 L556.91,158.34 L557.01,159.84 L556.33,161.35 L555.86,162.86 L555.94,164.36 L555.75,165.87 L555.38,167.37 L555.72,168.88 L556.39,170.38 L556.43,171.89 L556.21,173.39 L556.41,174.90 L574.85,174.90 L574.98,173.39 L574.90,171.89 L575.23,170.38 L575.71,168.88 L575.57,167.37 L574.90,165.87 L574.54,164.36 L574.59,162.86 L574.42,161.35 L574.07,159.84 L574.26,158.34 L574.94,156.83 L575.26,155.33 L574.98,153.82 L574.78,152.32 L574.86,150.81 L574.59,149.31 L573.90,147.80 L573.60,146.29 L573.99,144.79 L574.37,143.28 L574.33,141.78 L574.40,140.27 L574.83,138.77 L574.91,137.26 L574.29,135.76 L573.69,134.25 L573.69,132.74 L573.79,131.24 L573.57,129.73 L573.56,128.23 L574.15,126.72 L574.70,125.22 L574.55,123.71 L574.14,122.21 L574.10,120.70 L574.05,119.19 L573.53,117.69 L573.07,116.18 L573.34,114.68 L573.93,113.17 L574.08,111.67 L574.00,110.16 L574.24,108.66 L574.49,107.15 L574.07,105.64 L573.35,104.14 L573.15,102.63 L573.40,101.13 L573.40,99.62 L573.28,98.12 L573.66,96.61 L574.30,95.11 L574.36,93.60 L573.85,92.09 L573.56,90.59 L573.59,89.08 L573.32,87.58 L572.82,86.07 L572.86,84.57 L573.50,83.06 L573.80,81.56 L573.55,80.05 L573.42,78.54 L573.53,77.04 L573.22,75.53 L572.38,74.03 L571.83,72.52 L571.94,71.02 L572.08,69.51 L571.89,68.01 L571.83,66.50 L572.20,64.99 L572.27,63.49 L571.62,61.98 L570.88,60.48 L570.62,58.97 L570.38,57.47 L569.79,55.96 L569.42,54.46 L569.78,52.95 L570.21,51.44 L570.03,49.94 L569.62,48.43 L569.52,46.93 L569.35,45.42 L568.61,43.92 L567.91,42.41 L567.95,40.91 L568.34,39.40 Z" fill="#fffff2" filter="url(#b05)" opacity="1.0"/>
</g>
<line x1="523.2" y1="45.9" x2="523.2" y2="174.4" stroke="#a0a0a0" stroke-width="0.55" stroke-opacity="0.85"/>
<line x1="606.6" y1="45.9" x2="606.6" y2="174.4" stroke="#a0a0a0" stroke-width="0.55" stroke-opacity="0.85"/>
<path d="M501.8,40.9 L523.2,45.9 Q540.2,41.6 565.2,41.4 Q589.9000000000001,41.6 606.6,45.9 L635.7,40.9" fill="none" stroke="#a0a0a0" stroke-width="0.55" stroke-opacity="0.85"/>
<path d="M501.8,40.9 Q533.5,35.699999999999996 565.2,36.9 Q600.45,35.699999999999996 635.7,40.9" fill="none" stroke="#8a8a8a" stroke-width="0.45" stroke-opacity="0.7"/>
<line x1="502.1" y1="40.9" x2="502.1" y2="168.4" stroke="#9a9a9a" stroke-width="0.4" stroke-opacity="0.6"/>
<line x1="548.6" y1="176.4" x2="548.6" y2="185.0" stroke="#bc1030" stroke-width="1.3"/>
<path d="M548.6,173.6 L551.9,179.4 L548.6,178.1 L545.3000000000001,179.4 Z" fill="#bc1030"/>
<line x1="579.8" y1="176.4" x2="579.8" y2="185.0" stroke="#bc1030" stroke-width="1.3"/>
<path d="M579.8,173.6 L583.0999999999999,179.4 L579.8,178.1 L576.5,179.4 Z" fill="#bc1030"/>
<line x1="548.6" y1="191.8" x2="548.6" y2="201.6" stroke="#bc1030" stroke-width="1.3"/>
<path d="M548.6,189.0 L551.9,194.8 L548.6,193.5 L545.3000000000001,194.8 Z" fill="#bc1030"/>
<line x1="579.8" y1="191.8" x2="579.8" y2="201.6" stroke="#bc1030" stroke-width="1.3"/>
<path d="M579.8,189.0 L583.0999999999999,194.8 L579.8,193.5 L576.5,194.8 Z" fill="#bc1030"/>
<path d="M555.7,174.9 C566.2,171.29999999999998 574.8000000000001,173.6 574.6,180.1 C574.8000000000001,186.6 566.2,188.7 554.7,185.7 L554.4000000000001,182.7 C562.2,184.7 567.8000000000001,183.1 567.6,180.1 C567.8000000000001,177.1 562.2,176.1 555.2,177.9 Z" fill="#f7ccd1" stroke="#bc1030" stroke-width="0.6" stroke-linejoin="round"/>
<line x1="566.8" y1="173.5" x2="565.1" y2="177.2" stroke="#bc1030" stroke-width="0.4" stroke-opacity="0.55"/>
<line x1="570.8" y1="174.9" x2="566.4" y2="177.8" stroke="#bc1030" stroke-width="0.4" stroke-opacity="0.55"/>
<line x1="573.4" y1="177.2" x2="567.3" y2="178.8" stroke="#bc1030" stroke-width="0.4" stroke-opacity="0.55"/>
<line x1="574.4" y1="180.1" x2="567.6" y2="180.1" stroke="#bc1030" stroke-width="0.4" stroke-opacity="0.55"/>
<line x1="573.4" y1="183.0" x2="567.3" y2="181.4" stroke="#bc1030" stroke-width="0.4" stroke-opacity="0.55"/>
<line x1="570.8" y1="185.3" x2="566.4" y2="182.4" stroke="#bc1030" stroke-width="0.4" stroke-opacity="0.55"/>
<line x1="566.8" y1="186.7" x2="565.1" y2="183.0" stroke="#bc1030" stroke-width="0.4" stroke-opacity="0.55"/>
<path d="M555.7,188.5 C566.2,184.89999999999998 574.8000000000001,187.2 574.6,193.7 C574.8000000000001,200.2 566.2,202.29999999999998 554.7,199.29999999999998 L554.4000000000001,196.29999999999998 C562.2,198.29999999999998 567.8000000000001,196.7 567.6,193.7 C567.8000000000001,190.7 562.2,189.7 555.2,191.5 Z" fill="#f7ccd1" stroke="#bc1030" stroke-width="0.6" stroke-linejoin="round"/>
<line x1="566.8" y1="187.1" x2="565.1" y2="190.8" stroke="#bc1030" stroke-width="0.4" stroke-opacity="0.55"/>
<line x1="570.8" y1="188.5" x2="566.4" y2="191.4" stroke="#bc1030" stroke-width="0.4" stroke-opacity="0.55"/>
<line x1="573.4" y1="190.8" x2="567.3" y2="192.4" stroke="#bc1030" stroke-width="0.4" stroke-opacity="0.55"/>
<line x1="574.4" y1="193.7" x2="567.6" y2="193.7" stroke="#bc1030" stroke-width="0.4" stroke-opacity="0.55"/>
<line x1="573.4" y1="196.6" x2="567.3" y2="195.0" stroke="#bc1030" stroke-width="0.4" stroke-opacity="0.55"/>
<line x1="570.8" y1="198.9" x2="566.4" y2="196.0" stroke="#bc1030" stroke-width="0.4" stroke-opacity="0.55"/>
<line x1="566.8" y1="200.3" x2="565.1" y2="196.6" stroke="#bc1030" stroke-width="0.4" stroke-opacity="0.55"/>
<ellipse cx="561.0" cy="175.39999999999998" rx="6.6" ry="1.9" fill="#f0a4b0" stroke="#bc1030" stroke-width="0.55" transform="rotate(-6 561.0 175.39999999999998)"/>
<ellipse cx="559.8000000000001" cy="187.2" rx="5.6" ry="1.8" fill="#f0a4b0" stroke="#bc1030" stroke-width="0.55" transform="rotate(-6 559.8000000000001 187.2)"/>
<ellipse cx="559.8000000000001" cy="198.39999999999998" rx="5.2" ry="2.1" fill="#f0a4b0" stroke="#bc1030" stroke-width="0.55" transform="rotate(-6 559.8000000000001 198.39999999999998)"/>
<rect x="646.9" y="68.0" width="8.0" height="86.6" fill="url(#hot)" stroke="#b8b8b8" stroke-width="0.5"/>
<text x="652.3" y="64.9" font-size="9.4" text-anchor="middle" >max</text>
<text x="652.2" y="164.8" font-size="10.4" text-anchor="middle" >min</text>
<text x="660.2" y="107.2" font-size="10.3" text-anchor="middle" transform="rotate(90 660.2 107.2)" >Intensity</text>
<path d="M503.2,249.1 Q534.9,243.9 566.6,245.1 Q601.29,243.9 635.98,249.1 L635.98,377.6 Q623.4300000000001,383.20000000000005 606.88,382.6 Q590.74,379.5 566.6,380.1 Q541.6,379.5 524.6,382.6 Q511.9,382.20000000000005 503.2,376.6 Z" fill="#040404"/>
<clipPath id="bcf"><path d="M524.6,254.1 Q541.6,249.79999999999998 566.6,249.6 Q590.74,249.79999999999998 606.88,254.1 L606.88,382.6 Q590.74,379.5 566.6,380.1 Q541.6,379.5 524.6,382.6 Z"/></clipPath>
<g clip-path="url(#bcf)">
<path d="M552.20,247.60 L552.63,249.11 L552.53,250.61 L552.40,252.12 L552.53,253.62 L552.35,255.13 L551.82,256.63 L551.70,258.14 L552.00,259.64 L552.04,261.15 L552.01,262.66 L552.42,264.16 L552.78,265.67 L552.54,267.17 L552.23,268.68 L552.27,270.18 L552.12,271.69 L551.69,273.19 L551.69,274.70 L552.14,276.21 L552.31,277.71 L552.26,279.22 L552.55,280.72 L552.77,282.23 L552.40,283.73 L551.98,285.24 L552.01,286.74 L551.99,288.25 L551.72,289.76 L551.84,291.26 L552.38,292.77 L552.57,294.27 L552.41,295.78 L552.51,297.28 L552.61,298.79 L552.17,300.29 L551.74,301.80 L551.86,303.31 L552.02,304.81 L551.90,306.32 L552.08,307.82 L552.60,309.33 L552.71,310.83 L552.39,312.34 L552.32,313.84 L552.35,315.35 L551.96,316.86 L551.61,318.36 L551.86,319.87 L552.20,321.37 L552.17,322.88 L552.30,324.38 L552.72,325.89 L552.70,327.39 L552.23,328.90 L552.05,330.41 L552.11,331.91 L551.85,333.42 L551.64,334.92 L552.02,336.43 L552.45,337.93 L552.42,339.44 L552.41,340.94 L552.67,342.45 L552.54,343.96 L551.99,345.46 L551.80,346.97 L551.98,348.47 L551.91,349.98 L551.82,351.48 L552.25,352.99 L552.68,354.49 L552.56,356.00 L552.36,357.51 L552.47,359.01 L552.30,360.52 L551.78,362.02 L551.67,363.53 L552.02,365.03 L552.11,366.54 L552.08,368.04 L552.46,369.55 L552.80,371.06 L552.53,372.56 L552.17,374.07 L552.19,375.57 L552.08,377.08 L551.68,378.58 L551.71,380.09 L552.19,381.59 L552.39,383.10 L580.34,383.10 L580.20,381.59 L580.29,380.09 L580.35,378.58 L579.98,377.08 L579.51,375.57 L579.52,374.07 L579.84,372.56 L579.93,371.06 L579.91,369.55 L580.20,368.04 L580.57,366.54 L580.45,365.03 L579.99,363.53 L579.78,362.02 L579.85,360.52 L579.73,359.01 L579.52,357.51 L579.71,356.00 L580.23,354.49 L580.46,352.99 L580.27,351.48 L580.18,349.98 L580.26,348.47 L580.06,346.97 L579.58,345.46 L579.43,343.96 L579.76,342.45 L580.04,340.94 L580.03,339.44 L580.13,337.93 L580.47,336.43 L580.52,334.92 L580.08,333.42 L579.69,331.91 L579.73,330.41 L579.80,328.90 L579.64,327.39 L579.67,325.89 L580.13,324.38 L580.52,322.88 L580.39,321.37 L580.13,319.87 L580.12,318.36 L580.08,316.86 L579.70,315.35 L579.40,313.84 L579.64,312.34 L580.07,310.83 L580.17,309.33 L580.13,307.82 L580.34,306.32 L580.51,304.81 L580.19,303.31 L579.69,301.80 L579.59,300.29 L579.78,298.79 L579.78,297.28 L579.71,295.78 L580.03,294.27 L580.50,292.77 L580.52,291.26 L580.16,289.76 L579.98,288.25 L580.01,286.74 L579.80,285.24 L579.46,283.73 L579.54,282.23 L580.03,280.72 L580.30,279.22 L580.21,277.71 L580.24,276.21 L580.42,274.70 L580.27,273.19 L579.75,271.69 L579.49,270.18 L579.69,268.68 L579.88,267.17 L579.83,265.67 L579.96,264.16 L580.40,262.66 L580.59,261.15 L580.25,259.64 L579.90,258.14 L579.88,256.63 L579.85,255.13 L579.58,253.62 L579.50,252.12 L579.93,250.61 L580.36,249.11 L580.35,247.60 Z" fill="#360505" filter="url(#b12)" opacity="1.0"/>
<path d="M553.94,247.60 L554.07,249.11 L553.70,250.61 L553.76,252.12 L553.77,253.62 L553.08,255.13 L552.56,256.63 L552.92,258.14 L553.26,259.64 L553.16,261.15 L553.48,262.66 L554.18,264.16 L554.14,265.67 L553.52,267.17 L553.38,268.68 L553.39,270.18 L552.85,271.69 L552.52,273.19 L553.09,274.70 L553.63,276.21 L553.56,277.71 L553.72,279.22 L554.20,280.72 L553.97,282.23 L553.18,283.73 L552.97,285.24 L553.13,286.74 L552.85,288.25 L552.72,289.76 L553.41,291.26 L554.01,292.77 L553.83,294.27 L553.73,295.78 L553.97,297.28 L553.63,298.79 L552.82,300.29 L552.70,301.80 L553.11,303.31 L553.09,304.81 L553.08,306.32 L553.75,307.82 L554.26,309.33 L553.88,310.83 L553.50,312.34 L553.58,313.84 L553.28,315.35 L552.61,316.86 L552.66,318.36 L553.31,319.87 L553.48,321.37 L553.45,322.88 L553.96,324.38 L554.27,325.89 L553.69,327.39 L553.12,328.90 L553.19,330.41 L553.07,331.91 L552.62,333.42 L552.86,334.92 L553.66,336.43 L553.88,337.93 L553.68,339.44 L553.93,340.94 L554.04,342.45 L553.35,343.96 L552.75,345.46 L552.94,346.97 L553.09,348.47 L552.88,349.98 L553.21,351.48 L554.01,352.99 L554.12,354.49 L553.68,356.00 L553.66,357.51 L553.67,359.01 L553.02,360.52 L552.52,362.02 L552.93,363.53 L553.35,365.03 L553.27,366.54 L553.55,368.04 L554.20,369.55 L554.13,371.06 L553.45,372.56 L553.26,374.07 L553.31,375.57 L552.84,377.08 L552.55,378.58 L553.14,380.09 L553.73,381.59 L553.66,383.10 L579.19,383.10 L579.07,381.59 L579.19,380.09 L579.48,378.58 L579.19,377.08 L578.40,375.57 L578.07,374.07 L578.38,372.56 L578.57,371.06 L578.47,369.55 L578.75,368.04 L579.45,366.54 L579.67,365.03 L579.14,363.53 L578.68,362.02 L578.70,360.52 L578.58,359.01 L578.11,357.51 L578.05,356.00 L578.72,354.49 L579.31,352.99 L579.25,351.48 L579.10,349.98 L579.29,348.47 L579.24,346.97 L578.56,345.46 L577.99,343.96 L578.20,342.45 L578.65,340.94 L578.69,339.44 L578.74,337.93 L579.27,336.43 L579.69,334.92 L579.31,333.42 L578.64,331.91 L578.48,330.41 L578.57,328.90 L578.30,327.39 L578.08,325.89 L578.56,324.38 L579.32,322.88 L579.46,321.37 L579.13,319.87 L579.09,318.36 L579.17,316.86 L578.72,315.35 L578.03,313.84 L578.02,312.34 L578.59,310.83 L578.89,309.33 L578.84,307.82 L579.11,306.32 L579.60,304.81 L579.46,303.31 L578.71,301.80 L578.29,300.29 L578.44,298.79 L578.46,297.28 L578.22,295.78 L578.44,294.27 L579.21,292.77 L579.61,291.26 L579.27,289.76 L578.94,288.25 L578.99,286.74 L578.81,285.24 L578.18,283.73 L577.92,282.23 L578.45,280.72 L579.01,279.22 L579.04,277.71 L579.04,276.21 L579.42,274.70 L579.51,273.19 L578.87,271.69 L578.21,270.18 L578.24,268.68 L578.51,267.17 L578.43,265.67 L578.44,264.16 L579.05,262.66 L579.64,261.15 L579.46,259.64 L578.91,258.14 L578.77,256.63 L578.78,255.13 L578.36,253.62 L577.94,252.12 L578.28,250.61 L579.01,249.11 L579.25,247.60 Z" fill="#700a0a" filter="url(#b08)" opacity="1.0"/>
<path d="M556.44,247.60 L555.99,249.11 L555.71,250.61 L555.89,252.12 L555.33,253.62 L554.37,255.13 L554.47,256.63 L555.18,258.14 L555.24,259.64 L555.31,261.15 L556.16,262.66 L556.58,264.16 L555.83,265.67 L555.25,267.17 L555.35,268.68 L554.97,270.18 L554.27,271.69 L554.63,273.19 L555.61,274.70 L555.79,276.21 L555.69,277.71 L556.23,279.22 L556.38,280.72 L555.42,282.23 L554.72,283.73 L554.94,285.24 L554.89,286.74 L554.50,288.25 L555.04,289.76 L556.11,291.26 L556.21,292.77 L555.80,294.27 L555.98,295.78 L555.94,297.28 L554.95,298.79 L554.32,300.29 L554.81,301.80 L555.14,303.31 L554.98,304.81 L555.52,306.32 L556.46,307.82 L556.34,309.33 L555.58,310.83 L555.48,312.34 L555.43,313.84 L554.62,315.35 L554.23,316.86 L555.01,318.36 L555.62,319.87 L555.52,321.37 L555.85,322.88 L556.52,324.38 L556.13,325.89 L555.11,327.39 L554.90,328.90 L555.02,330.41 L554.51,331.91 L554.37,333.42 L555.32,334.92 L556.02,336.43 L555.76,337.93 L555.72,339.44 L556.06,340.94 L555.51,342.45 L554.40,343.96 L554.27,345.46 L554.70,346.97 L554.54,348.47 L554.54,349.98 L555.47,351.48 L556.05,352.99 L555.49,354.49 L555.07,356.00 L555.17,357.51 L554.63,359.01 L553.67,360.52 L553.78,362.02 L554.55,363.53 L554.64,365.03 L554.63,366.54 L555.36,368.04 L555.70,369.55 L554.85,371.06 L554.16,372.56 L554.24,374.07 L553.92,375.57 L553.25,377.08 L553.61,378.58 L554.60,380.09 L554.77,381.59 L554.55,383.10 L578.04,383.10 L577.99,381.59 L578.05,380.09 L578.59,378.58 L578.61,377.08 L577.66,375.57 L576.82,374.07 L576.88,372.56 L577.11,371.06 L576.88,369.55 L576.91,368.04 L577.77,366.54 L578.47,365.03 L578.13,363.53 L577.44,362.02 L577.30,360.52 L577.22,359.01 L576.52,357.51 L575.96,356.00 L576.45,354.49 L577.35,352.99 L577.54,351.48 L577.35,349.98 L577.63,348.47 L577.91,346.97 L577.26,345.46 L576.25,343.96 L576.07,342.45 L576.56,340.94 L576.69,339.44 L576.59,337.93 L577.17,336.43 L578.05,334.92 L578.04,333.42 L577.23,331.91 L576.79,330.41 L576.86,328.90 L576.56,327.39 L575.97,325.89 L576.17,324.38 L577.18,322.88 L577.75,321.37 L577.53,319.87 L577.43,318.36 L577.70,316.86 L577.41,315.35 L576.40,313.84 L575.89,312.34 L576.37,310.83 L576.87,309.33 L576.84,307.82 L577.05,306.32 L577.84,304.81 L578.16,303.31 L577.43,301.80 L576.64,300.29 L576.60,298.79 L576.65,297.28 L576.21,295.78 L576.11,294.27 L576.97,292.77 L577.85,291.26 L577.79,289.76 L577.37,288.25 L577.42,286.74 L577.41,285.24 L576.63,283.73 L575.85,282.23 L576.13,280.72 L576.91,279.22 L577.13,277.71 L577.10,276.21 L577.60,274.70 L578.12,273.19 L577.65,271.69 L576.65,270.18 L576.32,268.68 L576.57,267.17 L576.47,265.67 L576.22,264.16 L576.77,262.66 L577.79,261.15 L578.04,259.64 L577.47,258.14 L577.16,256.63 L577.24,255.13 L576.81,253.62 L575.98,252.12 L575.93,250.61 L576.78,249.11 L577.37,247.60 Z" fill="#980f0b" filter="url(#b08)" opacity="1.0"/>
<ellipse cx="554.6" cy="256.6" rx="1.1" ry="2.2" fill="#e02c10" opacity="0.6" filter="url(#b05)"/>
<ellipse cx="577.4" cy="260.6" rx="1.1" ry="2.2" fill="#e02c10" opacity="0.6" filter="url(#b05)"/>
<ellipse cx="554.6" cy="270.3" rx="1.1" ry="2.2" fill="#e02c10" opacity="0.6" filter="url(#b05)"/>
<ellipse cx="577.4" cy="274.3" rx="1.1" ry="2.2" fill="#e02c10" opacity="0.6" filter="url(#b05)"/>
<ellipse cx="554.6" cy="284.0" rx="1.1" ry="2.2" fill="#e02c10" opacity="0.6" filter="url(#b05)"/>
<ellipse cx="577.4" cy="288.0" rx="1.1" ry="2.2" fill="#e02c10" opacity="0.6" filter="url(#b05)"/>
<ellipse cx="554.6" cy="297.8" rx="1.1" ry="2.2" fill="#e02c10" opacity="0.6" filter="url(#b05)"/>
<ellipse cx="577.4" cy="301.8" rx="1.1" ry="2.2" fill="#e02c10" opacity="0.6" filter="url(#b05)"/>
<ellipse cx="554.6" cy="311.5" rx="1.1" ry="2.2" fill="#e02c10" opacity="0.6" filter="url(#b05)"/>
<ellipse cx="577.4" cy="315.5" rx="1.1" ry="2.2" fill="#e02c10" opacity="0.6" filter="url(#b05)"/>
<ellipse cx="554.6" cy="325.2" rx="1.1" ry="2.2" fill="#e02c10" opacity="0.6" filter="url(#b05)"/>
<ellipse cx="577.4" cy="329.2" rx="1.1" ry="2.2" fill="#e02c10" opacity="0.6" filter="url(#b05)"/>
<ellipse cx="554.6" cy="338.9" rx="1.1" ry="2.2" fill="#e02c10" opacity="0.6" filter="url(#b05)"/>
<ellipse cx="577.4" cy="342.9" rx="1.1" ry="2.2" fill="#e02c10" opacity="0.6" filter="url(#b05)"/>
<ellipse cx="554.6" cy="352.7" rx="1.1" ry="2.2" fill="#e02c10" opacity="0.6" filter="url(#b05)"/>
<ellipse cx="577.4" cy="356.7" rx="1.1" ry="2.2" fill="#e02c10" opacity="0.6" filter="url(#b05)"/>
<ellipse cx="554.6" cy="366.4" rx="1.1" ry="2.2" fill="#e02c10" opacity="0.6" filter="url(#b05)"/>
<ellipse cx="577.4" cy="370.4" rx="1.1" ry="2.2" fill="#e02c10" opacity="0.6" filter="url(#b05)"/>
<ellipse cx="554.6" cy="380.1" rx="1.1" ry="2.2" fill="#e02c10" opacity="0.6" filter="url(#b05)"/>
<ellipse cx="577.4" cy="384.1" rx="1.1" ry="2.2" fill="#e02c10" opacity="0.6" filter="url(#b05)"/>
<path d="M559.73,247.60 L559.01,249.11 L558.70,250.61 L558.44,252.12 L557.53,253.62 L556.86,255.13 L557.21,256.63 L557.59,258.14 L557.47,259.64 L557.68,261.15 L558.28,262.66 L558.17,264.16 L557.47,265.67 L557.24,267.17 L557.27,268.68 L556.80,270.18 L556.47,271.69 L557.04,273.19 L557.62,274.70 L557.56,276.21 L557.62,277.71 L557.99,279.22 L557.70,280.72 L556.84,282.23 L556.56,283.73 L556.74,285.24 L556.50,286.74 L556.34,288.25 L556.97,289.76 L557.54,291.26 L557.28,292.77 L557.02,294.27 L557.15,295.78 L556.79,297.28 L555.95,298.79 L555.78,300.29 L556.21,301.80 L556.24,303.31 L556.17,304.81 L556.74,306.32 L557.17,307.82 L556.72,309.33 L556.24,310.83 L556.28,312.34 L556.03,313.84 L555.39,315.35 L555.45,316.86 L556.14,318.36 L556.36,319.87 L556.27,321.37 L556.67,322.88 L556.94,324.38 L556.32,325.89 L555.68,327.39 L555.74,328.90 L555.71,330.41 L555.31,331.91 L555.54,333.42 L556.34,334.92 L556.56,336.43 L556.28,337.93 L556.41,339.44 L556.49,340.94 L555.80,342.45 L555.15,343.96 L555.35,345.46 L555.57,346.97 L555.38,348.47 L555.64,349.98 L556.38,351.48 L556.45,352.99 L555.90,354.49 L555.76,356.00 L555.75,357.51 L555.12,359.01 L554.62,360.52 L555.02,362.02 L555.49,363.53 L555.41,365.03 L555.58,366.54 L556.14,368.04 L556.02,369.55 L555.25,371.06 L554.97,372.56 L555.03,374.07 L554.63,375.57 L554.33,377.08 L554.91,378.58 L555.51,380.09 L555.39,381.59 L555.33,383.10 L577.03,383.10 L577.05,381.59 L577.06,380.09 L577.48,378.58 L577.70,377.08 L577.13,375.57 L576.40,374.07 L576.29,372.56 L576.43,371.06 L576.24,369.55 L576.12,368.04 L576.66,366.54 L577.32,365.03 L577.27,363.53 L576.78,362.02 L576.63,360.52 L576.62,359.01 L576.13,357.51 L575.54,356.00 L575.69,354.49 L576.34,352.99 L576.60,351.48 L576.47,349.98 L576.64,348.47 L576.94,346.97 L576.61,345.46 L575.79,343.96 L575.43,342.45 L575.69,340.94 L575.79,339.44 L575.64,337.93 L575.94,336.43 L576.65,334.92 L576.87,333.42 L576.36,331.91 L575.95,330.41 L575.96,328.90 L575.77,327.39 L575.23,325.89 L575.14,324.38 L575.80,322.88 L576.34,321.37 L576.27,319.87 L576.18,318.36 L576.42,316.86 L576.36,315.35 L575.63,313.84 L575.05,312.34 L575.23,310.83 L575.59,309.33 L575.55,307.82 L575.57,306.32 L576.11,304.81 L576.51,303.31 L576.09,301.80 L575.48,300.29 L575.36,298.79 L575.41,297.28 L575.09,295.78 L574.85,294.27 L575.35,292.77 L576.11,291.26 L576.26,289.76 L576.01,288.25 L576.05,286.74 L576.16,285.24 L575.68,283.73 L574.99,282.23 L574.98,280.72 L575.52,279.22 L575.77,277.71 L575.75,276.21 L576.09,274.70 L576.56,273.19 L576.38,271.69 L575.60,270.18 L575.16,268.68 L575.22,267.17 L575.10,265.67 L574.76,264.16 L574.94,262.66 L575.67,261.15 L576.00,259.64 L575.64,258.14 L575.34,256.63 L575.36,255.13 L574.98,253.62 L574.02,252.12 L573.47,250.61 L573.70,249.11 L573.94,247.60 Z" fill="#e04c10" filter="url(#b05)" opacity="1.0"/>
<path d="M560.38,247.60 L559.71,249.11 L559.51,250.61 L559.04,252.12 L558.04,253.62 L557.72,255.13 L558.25,256.63 L558.44,258.14 L558.33,259.64 L558.74,261.15 L559.18,262.66 L558.71,264.16 L558.07,265.67 L558.04,267.17 L557.94,268.68 L557.41,270.18 L557.42,271.69 L558.16,273.19 L558.49,274.70 L558.35,276.21 L558.57,277.71 L558.79,279.22 L558.17,280.72 L557.41,282.23 L557.42,283.73 L557.53,285.24 L557.22,286.74 L557.35,288.25 L558.11,289.76 L558.37,291.26 L557.95,292.77 L557.84,294.27 L557.89,295.78 L557.27,297.28 L556.57,298.79 L556.75,300.29 L557.14,301.80 L557.03,303.31 L557.16,304.81 L557.82,306.32 L557.91,307.82 L557.27,309.33 L556.98,310.83 L557.03,312.34 L556.58,313.84 L556.10,315.35 L556.52,316.86 L557.16,318.36 L557.15,319.87 L557.18,321.37 L557.64,322.88 L557.58,324.38 L556.79,325.89 L556.41,327.39 L556.57,328.90 L556.38,330.41 L556.12,331.91 L556.67,333.42 L557.37,334.92 L557.29,336.43 L557.07,337.93 L557.28,339.44 L557.09,340.94 L556.27,342.45 L555.93,343.96 L556.30,345.46 L556.36,346.97 L556.23,348.47 L556.76,349.98 L557.36,351.48 L557.08,352.99 L556.56,354.49 L556.56,356.00 L556.36,357.51 L555.65,359.01 L555.49,360.52 L556.09,362.02 L556.36,363.53 L556.25,365.03 L556.61,366.54 L557.02,368.04 L556.54,369.55 L555.83,371.06 L555.78,372.56 L555.74,374.07 L555.26,375.57 L555.29,377.08 L556.04,378.58 L556.38,380.09 L556.14,381.59 L556.24,383.10 L576.08,383.10 L576.16,381.59 L576.13,380.09 L576.54,378.58 L576.94,377.08 L576.56,375.57 L575.80,374.07 L575.54,372.56 L575.65,371.06 L575.46,369.55 L575.21,368.04 L575.60,366.54 L576.34,365.03 L576.50,363.53 L576.09,362.02 L575.90,360.52 L575.95,359.01 L575.54,357.51 L574.85,356.00 L574.75,354.49 L575.33,352.99 L575.68,351.48 L575.60,349.98 L575.74,348.47 L576.14,346.97 L576.02,345.46 L575.24,343.96 L574.72,342.45 L574.85,340.94 L574.97,339.44 L574.77,337.93 L574.92,336.43 L575.64,334.92 L576.06,333.42 L575.71,331.91 L575.27,330.41 L575.26,328.90 L575.13,327.39 L574.56,325.89 L574.25,324.38 L574.75,322.88 L575.38,321.37 L575.43,319.87 L575.34,318.36 L575.61,316.86 L575.71,315.35 L575.10,313.84 L574.39,312.34 L574.37,310.83 L574.70,309.33 L574.68,307.82 L574.61,306.32 L575.10,304.81 L575.65,303.31 L575.46,301.80 L574.86,300.29 L574.65,298.79 L574.71,297.28 L574.40,295.78 L574.01,294.27 L574.31,292.77 L575.09,291.26 L575.41,289.76 L575.23,288.25 L575.26,286.74 L575.47,285.24 L575.13,283.73 L574.37,282.23 L574.14,280.72 L574.58,279.22 L574.88,277.71 L574.83,276.21 L575.11,274.70 L575.67,273.19 L575.72,271.69 L575.04,270.18 L574.48,268.68 L574.47,267.17 L574.37,265.67 L573.95,264.16 L573.94,262.66 L574.61,261.15 L575.11,259.64 L574.91,258.14 L574.60,256.63 L574.64,255.13 L574.37,253.62 L573.43,252.12 L572.67,250.61 L572.72,249.11 L572.98,247.60 Z" fill="#ffc624" filter="url(#b05)" opacity="1.0"/>
<path d="M561.95,247.60 L561.41,249.11 L561.19,250.61 L560.47,252.12 L559.57,253.62 L559.57,255.13 L560.03,256.63 L559.99,258.14 L559.96,259.64 L560.41,261.15 L560.48,262.66 L559.78,264.16 L559.30,265.67 L559.30,267.17 L558.98,268.68 L558.51,270.18 L558.79,271.69 L559.39,273.19 L559.37,274.70 L559.20,276.21 L559.46,277.71 L559.39,279.22 L558.63,280.72 L558.15,282.23 L558.33,283.73 L558.30,285.24 L558.05,286.74 L558.44,288.25 L559.09,289.76 L559.00,291.26 L558.59,292.77 L558.61,294.27 L558.47,295.78 L557.74,297.28 L557.37,298.79 L557.75,300.29 L557.96,301.80 L557.83,303.31 L558.16,304.81 L558.67,306.32 L558.40,307.82 L557.79,309.33 L557.71,310.83 L557.66,312.34 L557.13,313.84 L556.97,315.35 L557.57,316.86 L557.97,318.36 L557.85,319.87 L558.02,321.37 L558.37,322.88 L557.98,324.38 L557.25,325.89 L557.17,327.39 L557.29,328.90 L557.01,330.41 L557.01,331.91 L557.70,333.42 L558.11,334.92 L557.84,336.43 L557.76,337.93 L557.91,339.44 L557.46,340.94 L556.75,342.45 L556.76,343.96 L557.11,345.46 L557.03,346.97 L557.08,348.47 L557.70,349.98 L557.97,351.48 L557.47,352.99 L557.14,354.49 L557.17,356.00 L556.78,357.51 L556.20,359.01 L556.39,360.52 L556.96,362.02 L557.00,363.53 L556.97,365.03 L557.41,366.54 L557.51,368.04 L556.83,369.55 L556.36,371.06 L556.44,372.56 L556.25,374.07 L555.88,375.57 L556.22,377.08 L556.89,378.58 L556.93,380.09 L556.71,381.59 L556.91,383.10 L575.35,383.10 L575.48,381.59 L575.40,380.09 L575.73,378.58 L576.21,377.08 L576.07,375.57 L575.40,374.07 L575.04,372.56 L575.09,371.06 L574.92,369.55 L574.57,368.04 L574.76,366.54 L575.44,365.03 L575.76,363.53 L575.48,362.02 L575.28,360.52 L575.36,359.01 L575.09,357.51 L574.40,356.00 L574.10,354.49 L574.49,352.99 L574.87,351.48 L574.83,349.98 L574.90,348.47 L575.33,346.97 L575.41,345.46 L574.79,343.96 L574.19,342.45 L574.19,340.94 L574.29,339.44 L574.07,337.93 L574.06,336.43 L574.65,334.92 L575.20,333.42 L575.04,331.91 L574.64,330.41 L574.59,328.90 L574.54,327.39 L574.03,325.89 L573.57,324.38 L573.84,322.88 L574.43,321.37 L574.58,319.87 L574.50,318.36 L574.74,316.86 L574.98,315.35 L574.56,313.84 L573.84,312.34 L573.65,310.83 L573.89,309.33 L573.88,307.82 L573.72,306.32 L574.07,304.81 L574.67,303.31 L574.69,301.80 L574.15,300.29 L573.83,298.79 L573.81,297.28 L573.51,295.78 L572.97,294.27 L572.98,292.77 L573.58,291.26 L573.94,289.76 L573.79,288.25 L573.74,286.74 L573.94,285.24 L573.72,283.73 L572.97,282.23 L572.50,280.72 L572.71,279.22 L572.93,277.71 L572.83,276.21 L572.93,274.70 L573.43,273.19 L573.64,271.69 L573.12,270.18 L572.51,268.68 L572.38,267.17 L572.28,265.67 L571.82,264.16 L571.59,262.66 L572.05,261.15 L572.59,259.64 L572.52,258.14 L572.21,256.63 L572.22,255.13 L572.04,253.62 L571.19,252.12 L570.29,250.61 L570.08,249.11 L570.24,247.60 Z" fill="#fffff2" filter="url(#b05)" opacity="1.0"/>
</g>
<line x1="524.6" y1="254.1" x2="524.6" y2="382.6" stroke="#a0a0a0" stroke-width="0.55" stroke-opacity="0.85"/>
<line x1="606.88" y1="254.1" x2="606.88" y2="382.6" stroke="#a0a0a0" stroke-width="0.55" stroke-opacity="0.85"/>
<path d="M503.2,249.1 L524.6,254.1 Q541.6,249.79999999999998 566.6,249.6 Q590.74,249.79999999999998 606.88,254.1 L635.98,249.1" fill="none" stroke="#a0a0a0" stroke-width="0.55" stroke-opacity="0.85"/>
<path d="M503.2,249.1 Q534.9,243.9 566.6,245.1 Q601.29,243.9 635.98,249.1" fill="none" stroke="#8a8a8a" stroke-width="0.45" stroke-opacity="0.7"/>
<line x1="503.5" y1="249.1" x2="503.5" y2="376.6" stroke="#9a9a9a" stroke-width="0.4" stroke-opacity="0.6"/>
<line x1="549.4" y1="384.0" x2="549.4" y2="393.0" stroke="#1a1a9a" stroke-width="1.3"/>
<path d="M549.4,381.2 L553.0,387.4 L549.4,386.09999999999997 L545.8,387.4 Z" fill="#1a1a9a"/>
<line x1="580.2" y1="384.0" x2="580.2" y2="393.0" stroke="#1a1a9a" stroke-width="1.3"/>
<path d="M580.2,381.2 L583.8000000000001,387.4 L580.2,386.09999999999997 L576.6,387.4 Z" fill="#1a1a9a"/>
<line x1="549.4" y1="399.6" x2="549.4" y2="408.2" stroke="#1a1a9a" stroke-width="1.3"/>
<path d="M549.4,396.8 L553.0,403.0 L549.4,401.7 L545.8,403.0 Z" fill="#1a1a9a"/>
<line x1="580.2" y1="399.6" x2="580.2" y2="408.2" stroke="#1a1a9a" stroke-width="1.3"/>
<path d="M580.2,396.8 L583.8000000000001,403.0 L580.2,401.7 L576.6,403.0 Z" fill="#1a1a9a"/>
<path d="M573.5,381.9 C563.0,378.29999999999995 554.4,380.59999999999997 554.6,387.09999999999997 C554.4,393.59999999999997 563.0,395.7 574.5,392.7 L574.8,389.7 C567.0,391.7 561.4,390.09999999999997 561.6,387.09999999999997 C561.4,384.09999999999997 567.0,383.09999999999997 574.0,384.9 Z" fill="#a4b2ee" stroke="#1a1a9a" stroke-width="0.6" stroke-linejoin="round"/>
<line x1="562.4" y1="380.5" x2="564.1" y2="384.2" stroke="#1a1a9a" stroke-width="0.4" stroke-opacity="0.85"/>
<line x1="558.4" y1="381.9" x2="562.8" y2="384.8" stroke="#1a1a9a" stroke-width="0.4" stroke-opacity="0.85"/>
<line x1="555.8" y1="384.2" x2="561.9" y2="385.8" stroke="#1a1a9a" stroke-width="0.4" stroke-opacity="0.85"/>
<line x1="554.8" y1="387.1" x2="561.6" y2="387.1" stroke="#1a1a9a" stroke-width="0.4" stroke-opacity="0.85"/>
<line x1="555.8" y1="390.0" x2="561.9" y2="388.4" stroke="#1a1a9a" stroke-width="0.4" stroke-opacity="0.85"/>
<line x1="558.4" y1="392.3" x2="562.8" y2="389.4" stroke="#1a1a9a" stroke-width="0.4" stroke-opacity="0.85"/>
<line x1="562.4" y1="393.7" x2="564.1" y2="390.0" stroke="#1a1a9a" stroke-width="0.4" stroke-opacity="0.85"/>
<path d="M573.5,395.5 C563.0,391.9 554.4,394.2 554.6,400.7 C554.4,407.2 563.0,409.3 574.5,406.3 L574.8,403.3 C567.0,405.3 561.4,403.7 561.6,400.7 C561.4,397.7 567.0,396.7 574.0,398.5 Z" fill="#a4b2ee" stroke="#1a1a9a" stroke-width="0.6" stroke-linejoin="round"/>
<line x1="562.4" y1="394.1" x2="564.1" y2="397.8" stroke="#1a1a9a" stroke-width="0.4" stroke-opacity="0.85"/>
<line x1="558.4" y1="395.5" x2="562.8" y2="398.4" stroke="#1a1a9a" stroke-width="0.4" stroke-opacity="0.85"/>
<line x1="555.8" y1="397.8" x2="561.9" y2="399.4" stroke="#1a1a9a" stroke-width="0.4" stroke-opacity="0.85"/>
<line x1="554.8" y1="400.7" x2="561.6" y2="400.7" stroke="#1a1a9a" stroke-width="0.4" stroke-opacity="0.85"/>
<line x1="555.8" y1="403.6" x2="561.9" y2="402.0" stroke="#1a1a9a" stroke-width="0.4" stroke-opacity="0.85"/>
<line x1="558.4" y1="405.9" x2="562.8" y2="403.0" stroke="#1a1a9a" stroke-width="0.4" stroke-opacity="0.85"/>
<line x1="562.4" y1="407.3" x2="564.1" y2="403.6" stroke="#1a1a9a" stroke-width="0.4" stroke-opacity="0.85"/>
<ellipse cx="569.4" cy="382.4" rx="7.199999999999999" ry="1.9" fill="#7c90e2" stroke="#1a1a9a" stroke-width="0.55" transform="rotate(6 569.4 382.4)"/>
<ellipse cx="570.6" cy="394.2" rx="6.199999999999999" ry="1.8" fill="#7c90e2" stroke="#1a1a9a" stroke-width="0.55" transform="rotate(6 570.6 394.2)"/>
<ellipse cx="570.6" cy="405.4" rx="6.04" ry="2.1" fill="#7c90e2" stroke="#1a1a9a" stroke-width="0.55" transform="rotate(6 570.6 405.4)"/>
<rect x="646.9" y="275.8" width="8.0" height="85.9" fill="url(#hot)" stroke="#b8b8b8" stroke-width="0.5"/>
<text x="651.9" y="271.3" font-size="8.7" text-anchor="middle" >max</text>
<text x="652.2" y="372.6" font-size="10.4" text-anchor="middle" >min</text>
<text x="660.2" y="318.8" font-size="10.3" text-anchor="middle" transform="rotate(90 660.2 318.8)" >Intensity</text>
<text x="591.6" y="185.8" font-size="10" text-anchor="start" >Vortex</text>
<text x="591.6" y="198.2" font-size="10" text-anchor="start" >source</text>
<text x="591.6" y="393.1" font-size="10" text-anchor="start" >Anti-vortex</text>
<text x="591.6" y="405.2" font-size="10" text-anchor="start" >source</text>
</svg></body></html>
